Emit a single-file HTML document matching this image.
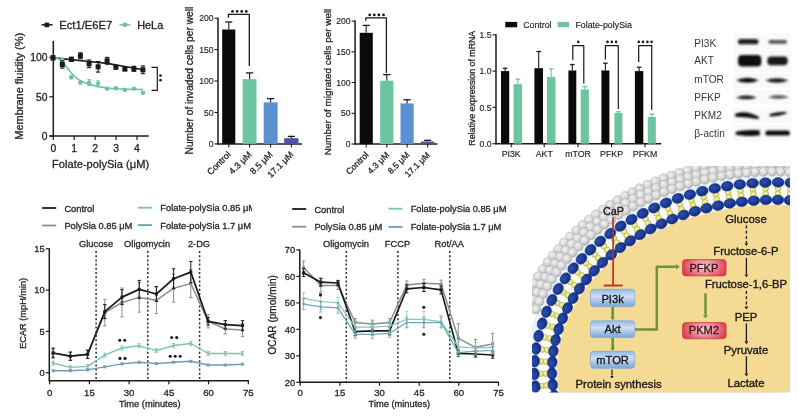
<!DOCTYPE html>
<html><head><meta charset="utf-8"><style>
html,body{margin:0;padding:0;background:#fff;}
svg{display:block;will-change:transform;-webkit-font-smoothing:antialiased;}
text{font-family:"Liberation Sans",sans-serif;stroke:#2a2a2a;stroke-width:0.3px;}
</style></head><body>
<svg width="798" height="417" viewBox="0 0 798 417">
<rect width="798" height="417" fill="#ffffff"/>
<line x1="53.3" y1="40.8" x2="53.3" y2="136.6" stroke="#1a1a1a" stroke-width="1.5" />
<line x1="49.5" y1="136.0" x2="148.8" y2="136.0" stroke="#1a1a1a" stroke-width="1.5" />
<line x1="49.3" y1="136.0" x2="53.3" y2="136.0" stroke="#1a1a1a" stroke-width="1.2" />
<text x="47.5" y="139.7" font-size="10.3" text-anchor="end" fill="#222" >0</text>
<line x1="49.3" y1="96.8" x2="53.3" y2="96.8" stroke="#1a1a1a" stroke-width="1.2" />
<text x="47.5" y="100.5" font-size="10.3" text-anchor="end" fill="#222" >50</text>
<line x1="49.3" y1="57.5" x2="53.3" y2="57.5" stroke="#1a1a1a" stroke-width="1.2" />
<text x="47.5" y="61.2" font-size="10.3" text-anchor="end" fill="#222" >100</text>
<line x1="53.3" y1="136.0" x2="53.3" y2="140.0" stroke="#1a1a1a" stroke-width="1.2" />
<text x="53.3" y="151.9" font-size="10.4" text-anchor="middle" fill="#222" >0</text>
<line x1="74.2" y1="136.0" x2="74.2" y2="140.0" stroke="#1a1a1a" stroke-width="1.2" />
<text x="74.2" y="151.9" font-size="10.4" text-anchor="middle" fill="#222" >1</text>
<line x1="95.2" y1="136.0" x2="95.2" y2="140.0" stroke="#1a1a1a" stroke-width="1.2" />
<text x="95.2" y="151.9" font-size="10.4" text-anchor="middle" fill="#222" >2</text>
<line x1="116.1" y1="136.0" x2="116.1" y2="140.0" stroke="#1a1a1a" stroke-width="1.2" />
<text x="116.1" y="151.9" font-size="10.4" text-anchor="middle" fill="#222" >3</text>
<line x1="137.0" y1="136.0" x2="137.0" y2="140.0" stroke="#1a1a1a" stroke-width="1.2" />
<text x="137.0" y="151.9" font-size="10.4" text-anchor="middle" fill="#222" >4</text>
<text x="100.6" y="167.6" font-size="11.1" text-anchor="middle" fill="#222" >Folate-polySia (μM)</text>
<text transform="translate(23,86.3) rotate(-90)" font-size="11" text-anchor="middle" fill="#222">Membrane fluidity (%)</text>
<line x1="41.6" y1="24.8" x2="52.6" y2="24.8" stroke="#1a1a1a" stroke-width="1.5" />
<rect x="44.6" y="22.6" width="4.6" height="4.6" fill="#1a1a1a" />
<text x="59.3" y="28.6" font-size="11.2" text-anchor="start" fill="#222" >Ect1/E6E7</text>
<line x1="119.5" y1="24.8" x2="130.3" y2="24.8" stroke="#6cc4a0" stroke-width="1.5" />
<circle cx="125" cy="24.8" r="2.4" fill="#6cc4a0"/>
<text x="137.2" y="28.6" font-size="10.9" text-anchor="start" fill="#222" >HeLa</text>
<path d="M53,57.8 L71,59.6 L89,61.5 L107,63.4 L125,66.5 L143,69.8" fill="none" stroke="#1a1a1a" stroke-width="1.6"/>
<path d="M53,57.8 L58,58.6 L62.3,61.5 L67,67.5 L71.4,73.2 L76,77.8 L80.4,80.6 L85,82.8 L89.1,84.4 L98,86.5 L107,88.1 L116,88.8 L125,89.2 L134,89.4 L143,89.5" fill="none" stroke="#6cc4a0" stroke-width="1.6" stroke-linejoin="round"/>
<line x1="53.0" y1="55.3" x2="53.0" y2="60.3" stroke="#6cc4a0" stroke-width="1.0" />
<line x1="51.2" y1="55.3" x2="54.8" y2="55.3" stroke="#6cc4a0" stroke-width="1.0" />
<line x1="51.2" y1="60.3" x2="54.8" y2="60.3" stroke="#6cc4a0" stroke-width="1.0" />
<circle cx="53.0" cy="57.8" r="2.2" fill="#6cc4a0"/>
<line x1="62.3" y1="58.0" x2="62.3" y2="62.0" stroke="#6cc4a0" stroke-width="1.0" />
<line x1="60.5" y1="58.0" x2="64.1" y2="58.0" stroke="#6cc4a0" stroke-width="1.0" />
<line x1="60.5" y1="62.0" x2="64.1" y2="62.0" stroke="#6cc4a0" stroke-width="1.0" />
<circle cx="62.3" cy="60.0" r="2.2" fill="#6cc4a0"/>
<line x1="71.4" y1="75.8" x2="71.4" y2="78.8" stroke="#6cc4a0" stroke-width="1.0" />
<line x1="69.6" y1="75.8" x2="73.2" y2="75.8" stroke="#6cc4a0" stroke-width="1.0" />
<line x1="69.6" y1="78.8" x2="73.2" y2="78.8" stroke="#6cc4a0" stroke-width="1.0" />
<circle cx="71.4" cy="77.3" r="2.2" fill="#6cc4a0"/>
<line x1="80.4" y1="81.1" x2="80.4" y2="84.1" stroke="#6cc4a0" stroke-width="1.0" />
<line x1="78.6" y1="81.1" x2="82.2" y2="81.1" stroke="#6cc4a0" stroke-width="1.0" />
<line x1="78.6" y1="84.1" x2="82.2" y2="84.1" stroke="#6cc4a0" stroke-width="1.0" />
<circle cx="80.4" cy="82.6" r="2.2" fill="#6cc4a0"/>
<line x1="89.1" y1="79.6" x2="89.1" y2="85.6" stroke="#6cc4a0" stroke-width="1.0" />
<line x1="87.3" y1="79.6" x2="90.9" y2="79.6" stroke="#6cc4a0" stroke-width="1.0" />
<line x1="87.3" y1="85.6" x2="90.9" y2="85.6" stroke="#6cc4a0" stroke-width="1.0" />
<circle cx="89.1" cy="82.6" r="2.2" fill="#6cc4a0"/>
<line x1="98.1" y1="80.8" x2="98.1" y2="86.8" stroke="#6cc4a0" stroke-width="1.0" />
<line x1="96.3" y1="80.8" x2="99.9" y2="80.8" stroke="#6cc4a0" stroke-width="1.0" />
<line x1="96.3" y1="86.8" x2="99.9" y2="86.8" stroke="#6cc4a0" stroke-width="1.0" />
<circle cx="98.1" cy="83.8" r="2.2" fill="#6cc4a0"/>
<line x1="107.1" y1="87.4" x2="107.1" y2="89.8" stroke="#6cc4a0" stroke-width="1.0" />
<line x1="105.3" y1="87.4" x2="108.9" y2="87.4" stroke="#6cc4a0" stroke-width="1.0" />
<line x1="105.3" y1="89.8" x2="108.9" y2="89.8" stroke="#6cc4a0" stroke-width="1.0" />
<circle cx="107.1" cy="88.6" r="2.2" fill="#6cc4a0"/>
<line x1="115.9" y1="87.1" x2="115.9" y2="89.5" stroke="#6cc4a0" stroke-width="1.0" />
<line x1="114.1" y1="87.1" x2="117.7" y2="87.1" stroke="#6cc4a0" stroke-width="1.0" />
<line x1="114.1" y1="89.5" x2="117.7" y2="89.5" stroke="#6cc4a0" stroke-width="1.0" />
<circle cx="115.9" cy="88.3" r="2.2" fill="#6cc4a0"/>
<line x1="124.9" y1="88.6" x2="124.9" y2="91.0" stroke="#6cc4a0" stroke-width="1.0" />
<line x1="123.1" y1="88.6" x2="126.7" y2="88.6" stroke="#6cc4a0" stroke-width="1.0" />
<line x1="123.1" y1="91.0" x2="126.7" y2="91.0" stroke="#6cc4a0" stroke-width="1.0" />
<circle cx="124.9" cy="89.8" r="2.2" fill="#6cc4a0"/>
<line x1="133.9" y1="87.6" x2="133.9" y2="89.6" stroke="#6cc4a0" stroke-width="1.0" />
<line x1="132.1" y1="87.6" x2="135.7" y2="87.6" stroke="#6cc4a0" stroke-width="1.0" />
<line x1="132.1" y1="89.6" x2="135.7" y2="89.6" stroke="#6cc4a0" stroke-width="1.0" />
<circle cx="133.9" cy="88.6" r="2.2" fill="#6cc4a0"/>
<line x1="142.9" y1="91.8" x2="142.9" y2="93.8" stroke="#6cc4a0" stroke-width="1.0" />
<line x1="141.1" y1="91.8" x2="144.7" y2="91.8" stroke="#6cc4a0" stroke-width="1.0" />
<line x1="141.1" y1="93.8" x2="144.7" y2="93.8" stroke="#6cc4a0" stroke-width="1.0" />
<circle cx="142.9" cy="92.8" r="2.2" fill="#6cc4a0"/>
<line x1="53.0" y1="55.8" x2="53.0" y2="59.8" stroke="#1a1a1a" stroke-width="1.1" />
<line x1="50.8" y1="55.8" x2="55.2" y2="55.8" stroke="#1a1a1a" stroke-width="1.1" />
<line x1="50.8" y1="59.8" x2="55.2" y2="59.8" stroke="#1a1a1a" stroke-width="1.1" />
<rect x="50.5" y="55.3" width="5.0" height="5.0" fill="#1a1a1a" />
<line x1="62.3" y1="60.9" x2="62.3" y2="68.1" stroke="#1a1a1a" stroke-width="1.1" />
<line x1="60.1" y1="60.9" x2="64.5" y2="60.9" stroke="#1a1a1a" stroke-width="1.1" />
<line x1="60.1" y1="68.1" x2="64.5" y2="68.1" stroke="#1a1a1a" stroke-width="1.1" />
<rect x="59.8" y="62.0" width="5.0" height="5.0" fill="#1a1a1a" />
<line x1="71.4" y1="57.3" x2="71.4" y2="61.3" stroke="#1a1a1a" stroke-width="1.1" />
<line x1="69.2" y1="57.3" x2="73.6" y2="57.3" stroke="#1a1a1a" stroke-width="1.1" />
<line x1="69.2" y1="61.3" x2="73.6" y2="61.3" stroke="#1a1a1a" stroke-width="1.1" />
<rect x="68.9" y="56.8" width="5.0" height="5.0" fill="#1a1a1a" />
<line x1="80.4" y1="52.8" x2="80.4" y2="58.8" stroke="#1a1a1a" stroke-width="1.1" />
<line x1="78.2" y1="52.8" x2="82.6" y2="52.8" stroke="#1a1a1a" stroke-width="1.1" />
<line x1="78.2" y1="58.8" x2="82.6" y2="58.8" stroke="#1a1a1a" stroke-width="1.1" />
<rect x="77.9" y="53.3" width="5.0" height="5.0" fill="#1a1a1a" />
<line x1="89.1" y1="60.0" x2="89.1" y2="67.6" stroke="#1a1a1a" stroke-width="1.1" />
<line x1="86.9" y1="60.0" x2="91.3" y2="60.0" stroke="#1a1a1a" stroke-width="1.1" />
<line x1="86.9" y1="67.6" x2="91.3" y2="67.6" stroke="#1a1a1a" stroke-width="1.1" />
<rect x="86.6" y="61.3" width="5.0" height="5.0" fill="#1a1a1a" />
<line x1="98.1" y1="61.5" x2="98.1" y2="72.1" stroke="#1a1a1a" stroke-width="1.1" />
<line x1="95.9" y1="61.5" x2="100.3" y2="61.5" stroke="#1a1a1a" stroke-width="1.1" />
<line x1="95.9" y1="72.1" x2="100.3" y2="72.1" stroke="#1a1a1a" stroke-width="1.1" />
<rect x="95.6" y="64.3" width="5.0" height="5.0" fill="#1a1a1a" />
<line x1="107.1" y1="57.4" x2="107.1" y2="64.2" stroke="#1a1a1a" stroke-width="1.1" />
<line x1="104.9" y1="57.4" x2="109.3" y2="57.4" stroke="#1a1a1a" stroke-width="1.1" />
<line x1="104.9" y1="64.2" x2="109.3" y2="64.2" stroke="#1a1a1a" stroke-width="1.1" />
<rect x="104.6" y="58.3" width="5.0" height="5.0" fill="#1a1a1a" />
<line x1="115.9" y1="65.8" x2="115.9" y2="68.8" stroke="#1a1a1a" stroke-width="1.1" />
<line x1="113.7" y1="65.8" x2="118.1" y2="65.8" stroke="#1a1a1a" stroke-width="1.1" />
<line x1="113.7" y1="68.8" x2="118.1" y2="68.8" stroke="#1a1a1a" stroke-width="1.1" />
<rect x="113.4" y="64.8" width="5.0" height="5.0" fill="#1a1a1a" />
<line x1="124.9" y1="67.6" x2="124.9" y2="70.6" stroke="#1a1a1a" stroke-width="1.1" />
<line x1="122.7" y1="67.6" x2="127.1" y2="67.6" stroke="#1a1a1a" stroke-width="1.1" />
<line x1="122.7" y1="70.6" x2="127.1" y2="70.6" stroke="#1a1a1a" stroke-width="1.1" />
<rect x="122.4" y="66.6" width="5.0" height="5.0" fill="#1a1a1a" />
<line x1="133.9" y1="66.3" x2="133.9" y2="71.3" stroke="#1a1a1a" stroke-width="1.1" />
<line x1="131.7" y1="66.3" x2="136.1" y2="66.3" stroke="#1a1a1a" stroke-width="1.1" />
<line x1="131.7" y1="71.3" x2="136.1" y2="71.3" stroke="#1a1a1a" stroke-width="1.1" />
<rect x="131.4" y="66.3" width="5.0" height="5.0" fill="#1a1a1a" />
<line x1="142.9" y1="65.9" x2="142.9" y2="73.7" stroke="#1a1a1a" stroke-width="1.1" />
<line x1="140.7" y1="65.9" x2="145.1" y2="65.9" stroke="#1a1a1a" stroke-width="1.1" />
<line x1="140.7" y1="73.7" x2="145.1" y2="73.7" stroke="#1a1a1a" stroke-width="1.1" />
<rect x="140.4" y="67.3" width="5.0" height="5.0" fill="#1a1a1a" />
<polyline points="151.5,67.3 157.3,67.3 157.3,90.4 151.5,90.4" fill="none" stroke="#1a1a1a" stroke-width="1.2" stroke-linejoin="round" />
<circle cx="160.5" cy="75.6" r="1.35" fill="#222"/><circle cx="160.5" cy="80.2" r="1.35" fill="#222"/>
<line x1="218.0" y1="17.7" x2="218.0" y2="144.5" stroke="#1a1a1a" stroke-width="1.5" />
<line x1="217.4" y1="143.9" x2="302.0" y2="143.9" stroke="#1a1a1a" stroke-width="1.5" />
<line x1="214.5" y1="143.9" x2="218.0" y2="143.9" stroke="#1a1a1a" stroke-width="1.1" />
<text x="213.5" y="147.0" font-size="8.6" text-anchor="end" fill="#222" style="stroke-width:0.15px">0</text>
<line x1="214.5" y1="112.5" x2="218.0" y2="112.5" stroke="#1a1a1a" stroke-width="1.1" />
<text x="213.5" y="115.6" font-size="8.6" text-anchor="end" fill="#222" style="stroke-width:0.15px">50</text>
<line x1="214.5" y1="81.0" x2="218.0" y2="81.0" stroke="#1a1a1a" stroke-width="1.1" />
<text x="213.5" y="84.1" font-size="8.6" text-anchor="end" fill="#222" style="stroke-width:0.15px">100</text>
<line x1="214.5" y1="49.6" x2="218.0" y2="49.6" stroke="#1a1a1a" stroke-width="1.1" />
<text x="213.5" y="52.7" font-size="8.6" text-anchor="end" fill="#222" style="stroke-width:0.15px">150</text>
<line x1="214.5" y1="18.2" x2="218.0" y2="18.2" stroke="#1a1a1a" stroke-width="1.1" />
<text x="213.5" y="21.3" font-size="8.6" text-anchor="end" fill="#222" style="stroke-width:0.15px">200</text>
<rect x="222.2" y="29.5" width="13.1" height="114.4" fill="#0a0a0a" />
<line x1="228.8" y1="29.5" x2="228.8" y2="22.0" stroke="#1a1a1a" stroke-width="1.1" />
<line x1="225.2" y1="22.0" x2="232.3" y2="22.0" stroke="#1a1a1a" stroke-width="1.3" />
<line x1="228.8" y1="143.9" x2="228.8" y2="147.4" stroke="#1a1a1a" stroke-width="1.1" />
<text transform="translate(231.3,155.1) rotate(-45)" font-size="9" text-anchor="end" fill="#222">Control</text>
<rect x="242.6" y="79.2" width="13.9" height="64.7" fill="#6cc4a0" />
<line x1="249.6" y1="79.2" x2="249.6" y2="72.9" stroke="#1a1a1a" stroke-width="1.1" />
<line x1="246.0" y1="72.9" x2="253.2" y2="72.9" stroke="#1a1a1a" stroke-width="1.3" />
<line x1="249.6" y1="143.9" x2="249.6" y2="147.4" stroke="#1a1a1a" stroke-width="1.1" />
<text transform="translate(252.2,155.1) rotate(-45)" font-size="9" text-anchor="end" fill="#222">4.3 μM</text>
<rect x="263.7" y="102.4" width="13.9" height="41.5" fill="#5b90d2" />
<line x1="270.6" y1="102.4" x2="270.6" y2="98.6" stroke="#1a1a1a" stroke-width="1.1" />
<line x1="267.0" y1="98.6" x2="274.2" y2="98.6" stroke="#1a1a1a" stroke-width="1.3" />
<line x1="270.6" y1="143.9" x2="270.6" y2="147.4" stroke="#1a1a1a" stroke-width="1.1" />
<text transform="translate(273.2,155.1) rotate(-45)" font-size="9" text-anchor="end" fill="#222">8.5 μM</text>
<rect x="284.2" y="138.2" width="14.3" height="5.7" fill="#4b52a3" />
<line x1="291.4" y1="138.2" x2="291.4" y2="136.4" stroke="#1a1a1a" stroke-width="1.1" />
<line x1="287.8" y1="136.4" x2="295.0" y2="136.4" stroke="#1a1a1a" stroke-width="1.3" />
<line x1="291.4" y1="143.9" x2="291.4" y2="147.4" stroke="#1a1a1a" stroke-width="1.1" />
<text transform="translate(294.0,155.1) rotate(-45)" font-size="9" text-anchor="end" fill="#222">17.1 μM</text>
<text transform="translate(192.7,80.6) rotate(-90)" font-size="10.23" text-anchor="middle" fill="#222">Number of invaded cells per well</text>
<polyline points="228.4,17.7 228.4,14.4 249.3,14.4 249.3,66.0" fill="none" stroke="#1a1a1a" stroke-width="1.3" stroke-linejoin="round" />
<circle cx="232.5" cy="11.4" r="1.4" fill="#1a1a1a"/>
<circle cx="237.1" cy="11.4" r="1.4" fill="#1a1a1a"/>
<circle cx="241.7" cy="11.4" r="1.4" fill="#1a1a1a"/>
<circle cx="246.3" cy="11.4" r="1.4" fill="#1a1a1a"/>
<line x1="355.1" y1="20.6" x2="355.1" y2="144.6" stroke="#1a1a1a" stroke-width="1.5" />
<line x1="354.5" y1="144.0" x2="437.4" y2="144.0" stroke="#1a1a1a" stroke-width="1.5" />
<line x1="351.6" y1="144.0" x2="355.1" y2="144.0" stroke="#1a1a1a" stroke-width="1.1" />
<text x="350.6" y="147.1" font-size="8.6" text-anchor="end" fill="#222" style="stroke-width:0.15px">0</text>
<line x1="351.6" y1="113.3" x2="355.1" y2="113.3" stroke="#1a1a1a" stroke-width="1.1" />
<text x="350.6" y="116.4" font-size="8.6" text-anchor="end" fill="#222" style="stroke-width:0.15px">50</text>
<line x1="351.6" y1="82.5" x2="355.1" y2="82.5" stroke="#1a1a1a" stroke-width="1.1" />
<text x="350.6" y="85.6" font-size="8.6" text-anchor="end" fill="#222" style="stroke-width:0.15px">100</text>
<line x1="351.6" y1="51.8" x2="355.1" y2="51.8" stroke="#1a1a1a" stroke-width="1.1" />
<text x="350.6" y="54.9" font-size="8.6" text-anchor="end" fill="#222" style="stroke-width:0.15px">150</text>
<line x1="351.6" y1="21.1" x2="355.1" y2="21.1" stroke="#1a1a1a" stroke-width="1.1" />
<text x="350.6" y="24.2" font-size="8.6" text-anchor="end" fill="#222" style="stroke-width:0.15px">200</text>
<rect x="359.7" y="32.8" width="13.1" height="111.2" fill="#0a0a0a" />
<line x1="366.2" y1="32.8" x2="366.2" y2="25.4" stroke="#1a1a1a" stroke-width="1.1" />
<line x1="362.6" y1="25.4" x2="369.9" y2="25.4" stroke="#1a1a1a" stroke-width="1.3" />
<line x1="366.2" y1="144.0" x2="366.2" y2="147.5" stroke="#1a1a1a" stroke-width="1.1" />
<text transform="translate(369.2,155.5) rotate(-45)" font-size="8.7" text-anchor="end" fill="#222">Control</text>
<rect x="380.2" y="80.7" width="13.2" height="63.3" fill="#6cc4a0" />
<line x1="386.8" y1="80.7" x2="386.8" y2="74.6" stroke="#1a1a1a" stroke-width="1.1" />
<line x1="383.2" y1="74.6" x2="390.4" y2="74.6" stroke="#1a1a1a" stroke-width="1.3" />
<line x1="386.8" y1="144.0" x2="386.8" y2="147.5" stroke="#1a1a1a" stroke-width="1.1" />
<text transform="translate(389.8,155.5) rotate(-45)" font-size="8.7" text-anchor="end" fill="#222">4.3 μM</text>
<rect x="400.5" y="103.4" width="13.2" height="40.6" fill="#5b90d2" />
<line x1="407.1" y1="103.4" x2="407.1" y2="99.8" stroke="#1a1a1a" stroke-width="1.1" />
<line x1="403.5" y1="99.8" x2="410.7" y2="99.8" stroke="#1a1a1a" stroke-width="1.3" />
<line x1="407.1" y1="144.0" x2="407.1" y2="147.5" stroke="#1a1a1a" stroke-width="1.1" />
<text transform="translate(410.1,155.5) rotate(-45)" font-size="8.7" text-anchor="end" fill="#222">8.5 μM</text>
<rect x="421.0" y="141.5" width="13.2" height="2.5" fill="#4b52a3" />
<line x1="427.6" y1="141.5" x2="427.6" y2="140.3" stroke="#1a1a1a" stroke-width="1.1" />
<line x1="424.0" y1="140.3" x2="431.2" y2="140.3" stroke="#1a1a1a" stroke-width="1.3" />
<line x1="427.6" y1="144.0" x2="427.6" y2="147.5" stroke="#1a1a1a" stroke-width="1.1" />
<text transform="translate(430.6,155.5) rotate(-45)" font-size="8.7" text-anchor="end" fill="#222">17.1 μM</text>
<text transform="translate(330.5,82.0) rotate(-90)" font-size="9.88" text-anchor="middle" fill="#222">Number of migrated cells per well</text>
<polyline points="365.8,20.8 365.8,17.9 386.4,17.9 386.4,73.0" fill="none" stroke="#1a1a1a" stroke-width="1.3" stroke-linejoin="round" />
<circle cx="369.7" cy="14.9" r="1.4" fill="#1a1a1a"/>
<circle cx="374.3" cy="14.9" r="1.4" fill="#1a1a1a"/>
<circle cx="378.9" cy="14.9" r="1.4" fill="#1a1a1a"/>
<circle cx="383.5" cy="14.9" r="1.4" fill="#1a1a1a"/>
<line x1="496.0" y1="34.3" x2="496.0" y2="144.3" stroke="#1a1a1a" stroke-width="1.5" />
<line x1="495.4" y1="143.7" x2="661.2" y2="143.7" stroke="#1a1a1a" stroke-width="1.5" />
<line x1="492.5" y1="143.7" x2="496.0" y2="143.7" stroke="#1a1a1a" stroke-width="1.1" />
<text x="491.5" y="146.8" font-size="8.6" text-anchor="end" fill="#222" style="stroke-width:0.15px">0.0</text>
<line x1="492.5" y1="107.4" x2="496.0" y2="107.4" stroke="#1a1a1a" stroke-width="1.1" />
<text x="491.5" y="110.5" font-size="8.6" text-anchor="end" fill="#222" style="stroke-width:0.15px">0.5</text>
<line x1="492.5" y1="71.1" x2="496.0" y2="71.1" stroke="#1a1a1a" stroke-width="1.1" />
<text x="491.5" y="74.2" font-size="8.6" text-anchor="end" fill="#222" style="stroke-width:0.15px">1.0</text>
<line x1="492.5" y1="34.8" x2="496.0" y2="34.8" stroke="#1a1a1a" stroke-width="1.1" />
<text x="491.5" y="37.9" font-size="8.6" text-anchor="end" fill="#222" style="stroke-width:0.15px">1.5</text>
<text transform="translate(475.1,88.2) rotate(-90)" font-size="8.8" text-anchor="middle" fill="#222">Relative expression of mRNA</text>
<rect x="505.3" y="21.9" width="11.9" height="5.4" fill="#0a0a0a" />
<text x="523.2" y="28.0" font-size="8.8" text-anchor="start" fill="#222" style="stroke-width:0.15px">Control</text>
<rect x="557.6" y="21.9" width="11.4" height="5.4" fill="#6cc4a0" />
<text x="575.4" y="28.0" font-size="8.85" text-anchor="start" fill="#222" style="stroke-width:0.15px">Folate-polySia</text>
<rect x="501.0" y="71.1" width="8.2" height="72.6" fill="#0a0a0a" />
<line x1="505.1" y1="71.1" x2="505.1" y2="68.2" stroke="#1a1a1a" stroke-width="1.1" />
<line x1="502.8" y1="68.2" x2="507.4" y2="68.2" stroke="#1a1a1a" stroke-width="1.3" />
<rect x="513.5" y="84.2" width="8.6" height="59.5" fill="#6cc4a0" />
<line x1="517.8" y1="84.2" x2="517.8" y2="79.1" stroke="#6cc4a0" stroke-width="1.1" />
<line x1="515.5" y1="79.1" x2="520.1" y2="79.1" stroke="#6cc4a0" stroke-width="1.3" />
<line x1="511.2" y1="143.7" x2="511.2" y2="147.2" stroke="#1a1a1a" stroke-width="1.1" />
<text x="511.2" y="156.7" font-size="8.8" text-anchor="middle" fill="#222" style="stroke-width:0.15px">PI3K</text>
<rect x="534.4" y="68.2" width="8.6" height="75.5" fill="#0a0a0a" />
<line x1="538.7" y1="68.2" x2="538.7" y2="51.5" stroke="#1a1a1a" stroke-width="1.1" />
<line x1="536.4" y1="51.5" x2="541.0" y2="51.5" stroke="#1a1a1a" stroke-width="1.3" />
<rect x="547.0" y="76.9" width="8.5" height="66.8" fill="#6cc4a0" />
<line x1="551.2" y1="76.9" x2="551.2" y2="68.9" stroke="#6cc4a0" stroke-width="1.1" />
<line x1="549.0" y1="68.9" x2="553.5" y2="68.9" stroke="#6cc4a0" stroke-width="1.3" />
<line x1="544.2" y1="143.7" x2="544.2" y2="147.2" stroke="#1a1a1a" stroke-width="1.1" />
<text x="544.2" y="156.7" font-size="8.8" text-anchor="middle" fill="#222" style="stroke-width:0.15px">AKT</text>
<rect x="568.4" y="70.5" width="7.9" height="73.2" fill="#0a0a0a" />
<line x1="572.3" y1="70.5" x2="572.3" y2="64.5" stroke="#1a1a1a" stroke-width="1.1" />
<line x1="570.0" y1="64.5" x2="574.6" y2="64.5" stroke="#1a1a1a" stroke-width="1.3" />
<rect x="580.7" y="89.5" width="8.2" height="54.2" fill="#6cc4a0" />
<line x1="584.8" y1="89.5" x2="584.8" y2="86.7" stroke="#6cc4a0" stroke-width="1.1" />
<line x1="582.5" y1="86.7" x2="587.1" y2="86.7" stroke="#6cc4a0" stroke-width="1.3" />
<line x1="578.0" y1="143.7" x2="578.0" y2="147.2" stroke="#1a1a1a" stroke-width="1.1" />
<text x="578.0" y="156.7" font-size="8.8" text-anchor="middle" fill="#222" style="stroke-width:0.15px">mTOR</text>
<rect x="601.4" y="70.5" width="8.0" height="73.2" fill="#0a0a0a" />
<line x1="605.4" y1="70.5" x2="605.4" y2="63.2" stroke="#1a1a1a" stroke-width="1.1" />
<line x1="603.1" y1="63.2" x2="607.7" y2="63.2" stroke="#1a1a1a" stroke-width="1.3" />
<rect x="614.4" y="113.0" width="8.0" height="30.7" fill="#6cc4a0" />
<line x1="618.4" y1="113.0" x2="618.4" y2="111.8" stroke="#6cc4a0" stroke-width="1.1" />
<line x1="616.1" y1="111.8" x2="620.7" y2="111.8" stroke="#6cc4a0" stroke-width="1.3" />
<line x1="611.6" y1="143.7" x2="611.6" y2="147.2" stroke="#1a1a1a" stroke-width="1.1" />
<text x="611.6" y="156.7" font-size="8.8" text-anchor="middle" fill="#222" style="stroke-width:0.15px">PFKP</text>
<rect x="634.9" y="71.1" width="8.4" height="72.6" fill="#0a0a0a" />
<line x1="639.1" y1="71.1" x2="639.1" y2="67.2" stroke="#1a1a1a" stroke-width="1.1" />
<line x1="636.8" y1="67.2" x2="641.4" y2="67.2" stroke="#1a1a1a" stroke-width="1.3" />
<rect x="647.8" y="117.0" width="8.0" height="26.7" fill="#6cc4a0" />
<line x1="651.8" y1="117.0" x2="651.8" y2="114.0" stroke="#6cc4a0" stroke-width="1.1" />
<line x1="649.5" y1="114.0" x2="654.1" y2="114.0" stroke="#6cc4a0" stroke-width="1.3" />
<line x1="645.0" y1="143.7" x2="645.0" y2="147.2" stroke="#1a1a1a" stroke-width="1.1" />
<text x="645.0" y="156.7" font-size="8.8" text-anchor="middle" fill="#222" style="stroke-width:0.15px">PFKM</text>
<polyline points="572.8,60.0 572.8,45.7 583.8,45.7 583.8,83.4" fill="none" stroke="#1a1a1a" stroke-width="1.2" stroke-linejoin="round" />
<circle cx="578.3" cy="41.9" r="1.3" fill="#1a1a1a"/>
<polyline points="605.4,59.4 605.4,45.7 618.3,45.7 618.3,109.0" fill="none" stroke="#1a1a1a" stroke-width="1.2" stroke-linejoin="round" />
<circle cx="607.5" cy="41.9" r="1.3" fill="#1a1a1a"/>
<circle cx="611.8" cy="41.9" r="1.3" fill="#1a1a1a"/>
<circle cx="616.1" cy="41.9" r="1.3" fill="#1a1a1a"/>
<polyline points="638.7,62.0 638.7,45.7 651.7,45.7 651.7,110.0" fill="none" stroke="#1a1a1a" stroke-width="1.2" stroke-linejoin="round" />
<circle cx="638.8" cy="41.9" r="1.3" fill="#1a1a1a"/>
<circle cx="643.0" cy="41.9" r="1.3" fill="#1a1a1a"/>
<circle cx="647.4" cy="41.9" r="1.3" fill="#1a1a1a"/>
<circle cx="651.6" cy="41.9" r="1.3" fill="#1a1a1a"/>
<text x="694.3" y="46.6" font-size="10.1" text-anchor="start" fill="#383838" style="stroke-width:0px">PI3K</text>
<text x="694.3" y="64.3" font-size="10.1" text-anchor="start" fill="#383838" style="stroke-width:0px">AKT</text>
<text x="694.3" y="82.8" font-size="10.1" text-anchor="start" fill="#383838" style="stroke-width:0px">mTOR</text>
<text x="694.3" y="100.7" font-size="10.1" text-anchor="start" fill="#383838" style="stroke-width:0px">PFKP</text>
<text x="694.3" y="119.2" font-size="10.1" text-anchor="start" fill="#383838" style="stroke-width:0px">PKM2</text>
<text x="694.3" y="136.6" font-size="10.1" text-anchor="start" fill="#383838" style="stroke-width:0px">β-actin</text>
<defs><filter id="bl" x="-20%" y="-80%" width="140%" height="260%"><feGaussianBlur stdDeviation="0.8"/></filter></defs>
<rect x="733.0" y="33.0" width="58.0" height="16.0" fill="#f9f9f9" />
<rect x="733.0" y="50.0" width="58.0" height="22.0" fill="#f9f9f9" />
<rect x="733.0" y="73.0" width="58.0" height="15.0" fill="#f9f9f9" />
<rect x="733.0" y="90.0" width="58.0" height="14.0" fill="#f9f9f9" />
<rect x="733.0" y="108.0" width="58.0" height="15.0" fill="#f9f9f9" />
<rect x="733.0" y="125.0" width="58.0" height="16.0" fill="#f9f9f9" />
<rect x="738.0" y="39.1" width="20.5" height="5.2" rx="2.6" fill="#111" fill-opacity="0.92" filter="url(#bl)" transform="rotate(0 748.2 41.7)"/>
<rect x="768.5" y="39.9" width="18.5" height="3.8" rx="1.9" fill="#111" fill-opacity="0.72" filter="url(#bl)" transform="rotate(0 777.7 41.8)"/>
<rect x="738.1" y="55.0" width="23.2" height="11.5" rx="4.0" fill="#111" fill-opacity="1.0" filter="url(#bl)" transform="rotate(0 749.7 60.8)"/>
<rect x="767.3" y="56.5" width="20.4" height="8.8" rx="4.0" fill="#111" fill-opacity="0.95" filter="url(#bl)" transform="rotate(0 777.5 60.9)"/>
<path d="M735.9,80.2 Q747.5,75.2 759.0,80.2 Q747.5,85.2 735.9,80.2 Z" fill="#111" fill-opacity="1.0" filter="url(#bl)"/>
<path d="M765.2,80.5 Q776.9,76.1 788.5,80.5 Q776.9,84.9 765.2,80.5 Z" fill="#111" fill-opacity="0.95" filter="url(#bl)"/>
<path d="M735.9,97.8 Q746.3,93.1 756.8,97.8 Q746.3,100.9 735.9,97.8 Z" fill="#111" fill-opacity="0.95" filter="url(#bl)"/>
<path d="M767.6,97.3 Q778.4,93.3 789.2,97.3 Q778.4,100.1 767.6,97.3 Z" fill="#111" fill-opacity="0.75" filter="url(#bl)"/>
<path d="M736,114.8 Q746,111 758,117.8 Q747,116 736,115.6 Z" fill="#111" stroke="#111" stroke-width="2.2" stroke-linejoin="round" filter="url(#bl)"/>
<path d="M770.5,114.8 Q778,112.2 785.6,113 Q778,115.4 770.5,115.6 Z" fill="#111" stroke="#111" stroke-width="1.8" stroke-linejoin="round" fill-opacity="0.9" filter="url(#bl)"/>
<path d="M736.5,132.6 Q745,130 759,131 L759,134.8 Q748,136 736.5,134 Z" fill="#111" stroke="#111" stroke-width="1.6" stroke-linejoin="round" filter="url(#bl)"/>
<rect x="765.4" y="130.4" width="24.5" height="5.2" rx="2.6" fill="#111" fill-opacity="1.0" filter="url(#bl)" transform="rotate(0 777.6 133.0)"/>
<defs><clipPath id="legclip"><rect x="0" y="190" width="252" height="50"/><rect x="270" y="190" width="250" height="50"/></clipPath></defs>
<line x1="49.3" y1="248.3" x2="49.3" y2="381.3" stroke="#1a1a1a" stroke-width="1.5" />
<line x1="48.7" y1="380.7" x2="248.9" y2="380.7" stroke="#1a1a1a" stroke-width="1.5" />
<line x1="45.8" y1="372.7" x2="49.3" y2="372.7" stroke="#1a1a1a" stroke-width="1.2" />
<text x="44.7" y="376.0" font-size="9.3" text-anchor="end" fill="#222" >0</text>
<line x1="45.8" y1="331.4" x2="49.3" y2="331.4" stroke="#1a1a1a" stroke-width="1.2" />
<text x="44.7" y="334.7" font-size="9.3" text-anchor="end" fill="#222" >5</text>
<line x1="45.8" y1="290.1" x2="49.3" y2="290.1" stroke="#1a1a1a" stroke-width="1.2" />
<text x="44.7" y="293.4" font-size="9.3" text-anchor="end" fill="#222" >10</text>
<line x1="45.8" y1="248.8" x2="49.3" y2="248.8" stroke="#1a1a1a" stroke-width="1.2" />
<text x="44.7" y="252.1" font-size="9.3" text-anchor="end" fill="#222" >15</text>
<line x1="49.7" y1="380.7" x2="49.7" y2="384.2" stroke="#1a1a1a" stroke-width="1.2" />
<text x="49.7" y="395.5" font-size="9.6" text-anchor="middle" fill="#222" >0</text>
<line x1="89.4" y1="380.7" x2="89.4" y2="384.2" stroke="#1a1a1a" stroke-width="1.2" />
<text x="89.4" y="395.5" font-size="9.6" text-anchor="middle" fill="#222" >15</text>
<line x1="129.1" y1="380.7" x2="129.1" y2="384.2" stroke="#1a1a1a" stroke-width="1.2" />
<text x="129.1" y="395.5" font-size="9.6" text-anchor="middle" fill="#222" >30</text>
<line x1="168.9" y1="380.7" x2="168.9" y2="384.2" stroke="#1a1a1a" stroke-width="1.2" />
<text x="168.9" y="395.5" font-size="9.6" text-anchor="middle" fill="#222" >45</text>
<line x1="208.6" y1="380.7" x2="208.6" y2="384.2" stroke="#1a1a1a" stroke-width="1.2" />
<text x="208.6" y="395.5" font-size="9.6" text-anchor="middle" fill="#222" >60</text>
<line x1="248.3" y1="380.7" x2="248.3" y2="384.2" stroke="#1a1a1a" stroke-width="1.2" />
<text x="248.3" y="395.5" font-size="9.6" text-anchor="middle" fill="#222" >75</text>
<text x="149.8" y="407.3" font-size="9.3" text-anchor="middle" fill="#222" >Time (minutes)</text>
<text transform="translate(25.6,313.3) rotate(-90)" font-size="9.2" text-anchor="middle" fill="#222">ECAR (mpH/min)</text>
<line x1="96.1" y1="251" x2="96.1" y2="380.7" stroke="#2a2a2a" stroke-width="1.5" stroke-dasharray="2.0,2.2"/>
<text x="96.1" y="247.3" font-size="9.3" text-anchor="middle" fill="#222" >Glucose</text>
<line x1="147.8" y1="251" x2="147.8" y2="380.7" stroke="#2a2a2a" stroke-width="1.5" stroke-dasharray="2.0,2.2"/>
<text x="147.1" y="247.3" font-size="9.3" text-anchor="middle" fill="#222" >Oligomycin</text>
<line x1="199.6" y1="251" x2="199.6" y2="380.7" stroke="#2a2a2a" stroke-width="1.5" stroke-dasharray="2.0,2.2"/>
<text x="199.0" y="247.3" font-size="9.3" text-anchor="middle" fill="#222" >2-DG</text>
<line x1="42.2" y1="208.0" x2="56.2" y2="208.0" stroke="#1a1a1a" stroke-width="1.8" />
<g clip-path="url(#legclip)">
<text x="64.4" y="211.5" font-size="9.3" text-anchor="start" fill="#222" >Control</text>
</g>
<line x1="42.2" y1="225.5" x2="56.2" y2="225.5" stroke="#8e8e8e" stroke-width="1.8" />
<g clip-path="url(#legclip)">
<text x="64.4" y="229.0" font-size="9.3" text-anchor="start" fill="#222" >PolySia 0.85 μM</text>
</g>
<line x1="138.1" y1="207.7" x2="152.1" y2="207.7" stroke="#78c4ae" stroke-width="1.8" />
<g clip-path="url(#legclip)">
<text x="160.3" y="211.2" font-size="9.3" text-anchor="start" fill="#222" >Folate-polySia 0.85 μM</text>
</g>
<line x1="138.1" y1="225.1" x2="152.1" y2="225.1" stroke="#6a9db6" stroke-width="1.8" />
<g clip-path="url(#legclip)">
<text x="160.3" y="228.6" font-size="9.3" text-anchor="start" fill="#222" >Folate-polySia 1.7 μM</text>
</g>
<line x1="53.1" y1="348.8" x2="53.1" y2="357.1" stroke="#8e8e8e" stroke-width="1.0" />
<line x1="51.4" y1="348.8" x2="54.8" y2="348.8" stroke="#8e8e8e" stroke-width="1.0" />
<line x1="51.4" y1="357.1" x2="54.8" y2="357.1" stroke="#8e8e8e" stroke-width="1.0" />
<line x1="70.4" y1="352.1" x2="70.4" y2="360.3" stroke="#8e8e8e" stroke-width="1.0" />
<line x1="68.7" y1="352.1" x2="72.1" y2="352.1" stroke="#8e8e8e" stroke-width="1.0" />
<line x1="68.7" y1="360.3" x2="72.1" y2="360.3" stroke="#8e8e8e" stroke-width="1.0" />
<line x1="87.6" y1="350.2" x2="87.6" y2="358.4" stroke="#8e8e8e" stroke-width="1.0" />
<line x1="85.9" y1="350.2" x2="89.3" y2="350.2" stroke="#8e8e8e" stroke-width="1.0" />
<line x1="85.9" y1="358.4" x2="89.3" y2="358.4" stroke="#8e8e8e" stroke-width="1.0" />
<line x1="104.8" y1="299.5" x2="104.8" y2="325.9" stroke="#8e8e8e" stroke-width="1.0" />
<line x1="103.1" y1="299.5" x2="106.5" y2="299.5" stroke="#8e8e8e" stroke-width="1.0" />
<line x1="103.1" y1="325.9" x2="106.5" y2="325.9" stroke="#8e8e8e" stroke-width="1.0" />
<line x1="122.0" y1="288.0" x2="122.0" y2="316.9" stroke="#8e8e8e" stroke-width="1.0" />
<line x1="120.3" y1="288.0" x2="123.7" y2="288.0" stroke="#8e8e8e" stroke-width="1.0" />
<line x1="120.3" y1="316.9" x2="123.7" y2="316.9" stroke="#8e8e8e" stroke-width="1.0" />
<line x1="139.2" y1="282.5" x2="139.2" y2="312.2" stroke="#8e8e8e" stroke-width="1.0" />
<line x1="137.5" y1="282.5" x2="140.9" y2="282.5" stroke="#8e8e8e" stroke-width="1.0" />
<line x1="137.5" y1="312.2" x2="140.9" y2="312.2" stroke="#8e8e8e" stroke-width="1.0" />
<line x1="156.4" y1="287.0" x2="156.4" y2="313.5" stroke="#8e8e8e" stroke-width="1.0" />
<line x1="154.7" y1="287.0" x2="158.1" y2="287.0" stroke="#8e8e8e" stroke-width="1.0" />
<line x1="154.7" y1="313.5" x2="158.1" y2="313.5" stroke="#8e8e8e" stroke-width="1.0" />
<line x1="173.6" y1="274.2" x2="173.6" y2="302.2" stroke="#8e8e8e" stroke-width="1.0" />
<line x1="171.9" y1="274.2" x2="175.3" y2="274.2" stroke="#8e8e8e" stroke-width="1.0" />
<line x1="171.9" y1="302.2" x2="175.3" y2="302.2" stroke="#8e8e8e" stroke-width="1.0" />
<line x1="190.8" y1="269.5" x2="190.8" y2="297.6" stroke="#8e8e8e" stroke-width="1.0" />
<line x1="189.1" y1="269.5" x2="192.5" y2="269.5" stroke="#8e8e8e" stroke-width="1.0" />
<line x1="189.1" y1="297.6" x2="192.5" y2="297.6" stroke="#8e8e8e" stroke-width="1.0" />
<line x1="208.1" y1="314.7" x2="208.1" y2="327.9" stroke="#8e8e8e" stroke-width="1.0" />
<line x1="206.4" y1="314.7" x2="209.8" y2="314.7" stroke="#8e8e8e" stroke-width="1.0" />
<line x1="206.4" y1="327.9" x2="209.8" y2="327.9" stroke="#8e8e8e" stroke-width="1.0" />
<line x1="225.3" y1="324.0" x2="225.3" y2="334.0" stroke="#8e8e8e" stroke-width="1.0" />
<line x1="223.6" y1="324.0" x2="227.0" y2="324.0" stroke="#8e8e8e" stroke-width="1.0" />
<line x1="223.6" y1="334.0" x2="227.0" y2="334.0" stroke="#8e8e8e" stroke-width="1.0" />
<line x1="242.5" y1="323.4" x2="242.5" y2="336.6" stroke="#8e8e8e" stroke-width="1.0" />
<line x1="240.8" y1="323.4" x2="244.2" y2="323.4" stroke="#8e8e8e" stroke-width="1.0" />
<line x1="240.8" y1="336.6" x2="244.2" y2="336.6" stroke="#8e8e8e" stroke-width="1.0" />
<polyline points="53.1,353.0 70.4,356.2 87.6,354.3 104.8,312.7 122.0,302.5 139.2,297.4 156.4,300.3 173.6,288.2 190.8,283.6 208.1,321.3 225.3,329.0 242.5,330.0" fill="none" stroke="#8e8e8e" stroke-width="1.5" stroke-linejoin="round" />
<rect x="51.6" y="351.5" width="3.0" height="3.0" fill="#8e8e8e"/>
<rect x="68.9" y="354.7" width="3.0" height="3.0" fill="#8e8e8e"/>
<rect x="86.1" y="352.8" width="3.0" height="3.0" fill="#8e8e8e"/>
<rect x="103.3" y="311.2" width="3.0" height="3.0" fill="#8e8e8e"/>
<rect x="120.5" y="301.0" width="3.0" height="3.0" fill="#8e8e8e"/>
<rect x="137.7" y="295.9" width="3.0" height="3.0" fill="#8e8e8e"/>
<rect x="154.9" y="298.8" width="3.0" height="3.0" fill="#8e8e8e"/>
<rect x="172.1" y="286.7" width="3.0" height="3.0" fill="#8e8e8e"/>
<rect x="189.3" y="282.1" width="3.0" height="3.0" fill="#8e8e8e"/>
<rect x="206.6" y="319.8" width="3.0" height="3.0" fill="#8e8e8e"/>
<rect x="223.8" y="327.5" width="3.0" height="3.0" fill="#8e8e8e"/>
<rect x="241.0" y="328.5" width="3.0" height="3.0" fill="#8e8e8e"/>
<line x1="53.1" y1="348.0" x2="53.1" y2="357.9" stroke="#1a1a1a" stroke-width="1.0" />
<line x1="51.4" y1="348.0" x2="54.8" y2="348.0" stroke="#1a1a1a" stroke-width="1.0" />
<line x1="51.4" y1="357.9" x2="54.8" y2="357.9" stroke="#1a1a1a" stroke-width="1.0" />
<line x1="70.4" y1="352.1" x2="70.4" y2="360.3" stroke="#1a1a1a" stroke-width="1.0" />
<line x1="68.7" y1="352.1" x2="72.1" y2="352.1" stroke="#1a1a1a" stroke-width="1.0" />
<line x1="68.7" y1="360.3" x2="72.1" y2="360.3" stroke="#1a1a1a" stroke-width="1.0" />
<line x1="87.6" y1="350.2" x2="87.6" y2="358.4" stroke="#1a1a1a" stroke-width="1.0" />
<line x1="85.9" y1="350.2" x2="89.3" y2="350.2" stroke="#1a1a1a" stroke-width="1.0" />
<line x1="85.9" y1="358.4" x2="89.3" y2="358.4" stroke="#1a1a1a" stroke-width="1.0" />
<line x1="104.8" y1="304.6" x2="104.8" y2="318.6" stroke="#1a1a1a" stroke-width="1.0" />
<line x1="103.1" y1="304.6" x2="106.5" y2="304.6" stroke="#1a1a1a" stroke-width="1.0" />
<line x1="103.1" y1="318.6" x2="106.5" y2="318.6" stroke="#1a1a1a" stroke-width="1.0" />
<line x1="122.0" y1="289.7" x2="122.0" y2="304.6" stroke="#1a1a1a" stroke-width="1.0" />
<line x1="120.3" y1="289.7" x2="123.7" y2="289.7" stroke="#1a1a1a" stroke-width="1.0" />
<line x1="120.3" y1="304.6" x2="123.7" y2="304.6" stroke="#1a1a1a" stroke-width="1.0" />
<line x1="139.2" y1="280.4" x2="139.2" y2="298.5" stroke="#1a1a1a" stroke-width="1.0" />
<line x1="137.5" y1="280.4" x2="140.9" y2="280.4" stroke="#1a1a1a" stroke-width="1.0" />
<line x1="137.5" y1="298.5" x2="140.9" y2="298.5" stroke="#1a1a1a" stroke-width="1.0" />
<line x1="156.4" y1="286.5" x2="156.4" y2="301.4" stroke="#1a1a1a" stroke-width="1.0" />
<line x1="154.7" y1="286.5" x2="158.1" y2="286.5" stroke="#1a1a1a" stroke-width="1.0" />
<line x1="154.7" y1="301.4" x2="158.1" y2="301.4" stroke="#1a1a1a" stroke-width="1.0" />
<line x1="173.6" y1="268.8" x2="173.6" y2="288.6" stroke="#1a1a1a" stroke-width="1.0" />
<line x1="171.9" y1="268.8" x2="175.3" y2="268.8" stroke="#1a1a1a" stroke-width="1.0" />
<line x1="171.9" y1="288.6" x2="175.3" y2="288.6" stroke="#1a1a1a" stroke-width="1.0" />
<line x1="190.8" y1="261.4" x2="190.8" y2="282.8" stroke="#1a1a1a" stroke-width="1.0" />
<line x1="189.1" y1="261.4" x2="192.5" y2="261.4" stroke="#1a1a1a" stroke-width="1.0" />
<line x1="189.1" y1="282.8" x2="192.5" y2="282.8" stroke="#1a1a1a" stroke-width="1.0" />
<line x1="208.1" y1="317.6" x2="208.1" y2="325.0" stroke="#1a1a1a" stroke-width="1.0" />
<line x1="206.4" y1="317.6" x2="209.8" y2="317.6" stroke="#1a1a1a" stroke-width="1.0" />
<line x1="206.4" y1="325.0" x2="209.8" y2="325.0" stroke="#1a1a1a" stroke-width="1.0" />
<line x1="225.3" y1="320.6" x2="225.3" y2="328.8" stroke="#1a1a1a" stroke-width="1.0" />
<line x1="223.6" y1="320.6" x2="227.0" y2="320.6" stroke="#1a1a1a" stroke-width="1.0" />
<line x1="223.6" y1="328.8" x2="227.0" y2="328.8" stroke="#1a1a1a" stroke-width="1.0" />
<line x1="242.5" y1="320.7" x2="242.5" y2="330.6" stroke="#1a1a1a" stroke-width="1.0" />
<line x1="240.8" y1="320.7" x2="244.2" y2="320.7" stroke="#1a1a1a" stroke-width="1.0" />
<line x1="240.8" y1="330.6" x2="244.2" y2="330.6" stroke="#1a1a1a" stroke-width="1.0" />
<polyline points="53.1,353.0 70.4,356.2 87.6,354.3 104.8,311.6 122.0,297.1 139.2,289.4 156.4,294.0 173.6,278.7 190.8,272.1 208.1,321.3 225.3,324.7 242.5,325.6" fill="none" stroke="#1a1a1a" stroke-width="1.7" stroke-linejoin="round" />
<rect x="51.6" y="351.5" width="3.0" height="3.0" fill="#1a1a1a"/>
<rect x="68.9" y="354.7" width="3.0" height="3.0" fill="#1a1a1a"/>
<rect x="86.1" y="352.8" width="3.0" height="3.0" fill="#1a1a1a"/>
<rect x="103.3" y="310.1" width="3.0" height="3.0" fill="#1a1a1a"/>
<rect x="120.5" y="295.6" width="3.0" height="3.0" fill="#1a1a1a"/>
<rect x="137.7" y="287.9" width="3.0" height="3.0" fill="#1a1a1a"/>
<rect x="154.9" y="292.5" width="3.0" height="3.0" fill="#1a1a1a"/>
<rect x="172.1" y="277.2" width="3.0" height="3.0" fill="#1a1a1a"/>
<rect x="189.3" y="270.6" width="3.0" height="3.0" fill="#1a1a1a"/>
<rect x="206.6" y="319.8" width="3.0" height="3.0" fill="#1a1a1a"/>
<rect x="223.8" y="323.2" width="3.0" height="3.0" fill="#1a1a1a"/>
<rect x="241.0" y="324.1" width="3.0" height="3.0" fill="#1a1a1a"/>
<line x1="53.1" y1="361.1" x2="53.1" y2="365.2" stroke="#78c4ae" stroke-width="0.8" />
<line x1="51.4" y1="361.1" x2="54.8" y2="361.1" stroke="#78c4ae" stroke-width="0.8" />
<line x1="51.4" y1="365.2" x2="54.8" y2="365.2" stroke="#78c4ae" stroke-width="0.8" />
<line x1="70.4" y1="365.3" x2="70.4" y2="369.5" stroke="#78c4ae" stroke-width="0.8" />
<line x1="68.7" y1="365.3" x2="72.1" y2="365.3" stroke="#78c4ae" stroke-width="0.8" />
<line x1="68.7" y1="369.5" x2="72.1" y2="369.5" stroke="#78c4ae" stroke-width="0.8" />
<line x1="87.6" y1="364.4" x2="87.6" y2="368.5" stroke="#78c4ae" stroke-width="0.8" />
<line x1="85.9" y1="364.4" x2="89.3" y2="364.4" stroke="#78c4ae" stroke-width="0.8" />
<line x1="85.9" y1="368.5" x2="89.3" y2="368.5" stroke="#78c4ae" stroke-width="0.8" />
<line x1="104.8" y1="353.0" x2="104.8" y2="357.2" stroke="#78c4ae" stroke-width="0.8" />
<line x1="103.1" y1="353.0" x2="106.5" y2="353.0" stroke="#78c4ae" stroke-width="0.8" />
<line x1="103.1" y1="357.2" x2="106.5" y2="357.2" stroke="#78c4ae" stroke-width="0.8" />
<line x1="122.0" y1="345.9" x2="122.0" y2="350.1" stroke="#78c4ae" stroke-width="0.8" />
<line x1="120.3" y1="345.9" x2="123.7" y2="345.9" stroke="#78c4ae" stroke-width="0.8" />
<line x1="120.3" y1="350.1" x2="123.7" y2="350.1" stroke="#78c4ae" stroke-width="0.8" />
<line x1="139.2" y1="343.7" x2="139.2" y2="347.8" stroke="#78c4ae" stroke-width="0.8" />
<line x1="137.5" y1="343.7" x2="140.9" y2="343.7" stroke="#78c4ae" stroke-width="0.8" />
<line x1="137.5" y1="347.8" x2="140.9" y2="347.8" stroke="#78c4ae" stroke-width="0.8" />
<line x1="156.4" y1="348.5" x2="156.4" y2="352.6" stroke="#78c4ae" stroke-width="0.8" />
<line x1="154.7" y1="348.5" x2="158.1" y2="348.5" stroke="#78c4ae" stroke-width="0.8" />
<line x1="154.7" y1="352.6" x2="158.1" y2="352.6" stroke="#78c4ae" stroke-width="0.8" />
<line x1="173.6" y1="343.5" x2="173.6" y2="347.6" stroke="#78c4ae" stroke-width="0.8" />
<line x1="171.9" y1="343.5" x2="175.3" y2="343.5" stroke="#78c4ae" stroke-width="0.8" />
<line x1="171.9" y1="347.6" x2="175.3" y2="347.6" stroke="#78c4ae" stroke-width="0.8" />
<line x1="190.8" y1="341.5" x2="190.8" y2="345.6" stroke="#78c4ae" stroke-width="0.8" />
<line x1="189.1" y1="341.5" x2="192.5" y2="341.5" stroke="#78c4ae" stroke-width="0.8" />
<line x1="189.1" y1="345.6" x2="192.5" y2="345.6" stroke="#78c4ae" stroke-width="0.8" />
<line x1="208.1" y1="351.5" x2="208.1" y2="355.6" stroke="#78c4ae" stroke-width="0.8" />
<line x1="206.4" y1="351.5" x2="209.8" y2="351.5" stroke="#78c4ae" stroke-width="0.8" />
<line x1="206.4" y1="355.6" x2="209.8" y2="355.6" stroke="#78c4ae" stroke-width="0.8" />
<line x1="225.3" y1="351.5" x2="225.3" y2="355.6" stroke="#78c4ae" stroke-width="0.8" />
<line x1="223.6" y1="351.5" x2="227.0" y2="351.5" stroke="#78c4ae" stroke-width="0.8" />
<line x1="223.6" y1="355.6" x2="227.0" y2="355.6" stroke="#78c4ae" stroke-width="0.8" />
<line x1="242.5" y1="351.5" x2="242.5" y2="355.6" stroke="#78c4ae" stroke-width="0.8" />
<line x1="240.8" y1="351.5" x2="244.2" y2="351.5" stroke="#78c4ae" stroke-width="0.8" />
<line x1="240.8" y1="355.6" x2="244.2" y2="355.6" stroke="#78c4ae" stroke-width="0.8" />
<polyline points="53.1,363.1 70.4,367.4 87.6,366.4 104.8,355.1 122.0,348.0 139.2,345.8 156.4,350.6 173.6,345.5 190.8,343.5 208.1,353.5 225.3,353.5 242.5,353.5" fill="none" stroke="#78c4ae" stroke-width="1.4" stroke-linejoin="round" />
<rect x="52.0" y="362.0" width="2.2" height="2.2" fill="#78c4ae"/>
<rect x="69.3" y="366.3" width="2.2" height="2.2" fill="#78c4ae"/>
<rect x="86.5" y="365.3" width="2.2" height="2.2" fill="#78c4ae"/>
<rect x="103.7" y="354.0" width="2.2" height="2.2" fill="#78c4ae"/>
<rect x="120.9" y="346.9" width="2.2" height="2.2" fill="#78c4ae"/>
<rect x="138.1" y="344.7" width="2.2" height="2.2" fill="#78c4ae"/>
<rect x="155.3" y="349.5" width="2.2" height="2.2" fill="#78c4ae"/>
<rect x="172.5" y="344.4" width="2.2" height="2.2" fill="#78c4ae"/>
<rect x="189.7" y="342.4" width="2.2" height="2.2" fill="#78c4ae"/>
<rect x="207.0" y="352.4" width="2.2" height="2.2" fill="#78c4ae"/>
<rect x="224.2" y="352.4" width="2.2" height="2.2" fill="#78c4ae"/>
<rect x="241.4" y="352.4" width="2.2" height="2.2" fill="#78c4ae"/>
<line x1="53.1" y1="369.7" x2="53.1" y2="371.7" stroke="#6a9db6" stroke-width="0.8" />
<line x1="51.4" y1="369.7" x2="54.8" y2="369.7" stroke="#6a9db6" stroke-width="0.8" />
<line x1="51.4" y1="371.7" x2="54.8" y2="371.7" stroke="#6a9db6" stroke-width="0.8" />
<line x1="70.4" y1="369.7" x2="70.4" y2="371.7" stroke="#6a9db6" stroke-width="0.8" />
<line x1="68.7" y1="369.7" x2="72.1" y2="369.7" stroke="#6a9db6" stroke-width="0.8" />
<line x1="68.7" y1="371.7" x2="72.1" y2="371.7" stroke="#6a9db6" stroke-width="0.8" />
<line x1="87.6" y1="368.9" x2="87.6" y2="370.9" stroke="#6a9db6" stroke-width="0.8" />
<line x1="85.9" y1="368.9" x2="89.3" y2="368.9" stroke="#6a9db6" stroke-width="0.8" />
<line x1="85.9" y1="370.9" x2="89.3" y2="370.9" stroke="#6a9db6" stroke-width="0.8" />
<line x1="104.8" y1="365.9" x2="104.8" y2="367.9" stroke="#6a9db6" stroke-width="0.8" />
<line x1="103.1" y1="365.9" x2="106.5" y2="365.9" stroke="#6a9db6" stroke-width="0.8" />
<line x1="103.1" y1="367.9" x2="106.5" y2="367.9" stroke="#6a9db6" stroke-width="0.8" />
<line x1="122.0" y1="362.9" x2="122.0" y2="364.9" stroke="#6a9db6" stroke-width="0.8" />
<line x1="120.3" y1="362.9" x2="123.7" y2="362.9" stroke="#6a9db6" stroke-width="0.8" />
<line x1="120.3" y1="364.9" x2="123.7" y2="364.9" stroke="#6a9db6" stroke-width="0.8" />
<line x1="139.2" y1="361.2" x2="139.2" y2="363.2" stroke="#6a9db6" stroke-width="0.8" />
<line x1="137.5" y1="361.2" x2="140.9" y2="361.2" stroke="#6a9db6" stroke-width="0.8" />
<line x1="137.5" y1="363.2" x2="140.9" y2="363.2" stroke="#6a9db6" stroke-width="0.8" />
<line x1="156.4" y1="362.6" x2="156.4" y2="364.6" stroke="#6a9db6" stroke-width="0.8" />
<line x1="154.7" y1="362.6" x2="158.1" y2="362.6" stroke="#6a9db6" stroke-width="0.8" />
<line x1="154.7" y1="364.6" x2="158.1" y2="364.6" stroke="#6a9db6" stroke-width="0.8" />
<line x1="173.6" y1="361.2" x2="173.6" y2="363.2" stroke="#6a9db6" stroke-width="0.8" />
<line x1="171.9" y1="361.2" x2="175.3" y2="361.2" stroke="#6a9db6" stroke-width="0.8" />
<line x1="171.9" y1="363.2" x2="175.3" y2="363.2" stroke="#6a9db6" stroke-width="0.8" />
<line x1="190.8" y1="360.3" x2="190.8" y2="362.3" stroke="#6a9db6" stroke-width="0.8" />
<line x1="189.1" y1="360.3" x2="192.5" y2="360.3" stroke="#6a9db6" stroke-width="0.8" />
<line x1="189.1" y1="362.3" x2="192.5" y2="362.3" stroke="#6a9db6" stroke-width="0.8" />
<line x1="208.1" y1="364.0" x2="208.1" y2="366.0" stroke="#6a9db6" stroke-width="0.8" />
<line x1="206.4" y1="364.0" x2="209.8" y2="364.0" stroke="#6a9db6" stroke-width="0.8" />
<line x1="206.4" y1="366.0" x2="209.8" y2="366.0" stroke="#6a9db6" stroke-width="0.8" />
<line x1="225.3" y1="364.0" x2="225.3" y2="366.0" stroke="#6a9db6" stroke-width="0.8" />
<line x1="223.6" y1="364.0" x2="227.0" y2="364.0" stroke="#6a9db6" stroke-width="0.8" />
<line x1="223.6" y1="366.0" x2="227.0" y2="366.0" stroke="#6a9db6" stroke-width="0.8" />
<line x1="242.5" y1="363.2" x2="242.5" y2="365.2" stroke="#6a9db6" stroke-width="0.8" />
<line x1="240.8" y1="363.2" x2="244.2" y2="363.2" stroke="#6a9db6" stroke-width="0.8" />
<line x1="240.8" y1="365.2" x2="244.2" y2="365.2" stroke="#6a9db6" stroke-width="0.8" />
<polyline points="53.1,370.7 70.4,370.7 87.6,369.9 104.8,366.9 122.0,363.9 139.2,362.2 156.4,363.6 173.6,362.2 190.8,361.3 208.1,365.0 225.3,365.0 242.5,364.2" fill="none" stroke="#6a9db6" stroke-width="1.4" stroke-linejoin="round" />
<rect x="52.0" y="369.6" width="2.2" height="2.2" fill="#6a9db6"/>
<rect x="69.3" y="369.6" width="2.2" height="2.2" fill="#6a9db6"/>
<rect x="86.5" y="368.8" width="2.2" height="2.2" fill="#6a9db6"/>
<rect x="103.7" y="365.8" width="2.2" height="2.2" fill="#6a9db6"/>
<rect x="120.9" y="362.8" width="2.2" height="2.2" fill="#6a9db6"/>
<rect x="138.1" y="361.1" width="2.2" height="2.2" fill="#6a9db6"/>
<rect x="155.3" y="362.5" width="2.2" height="2.2" fill="#6a9db6"/>
<rect x="172.5" y="361.1" width="2.2" height="2.2" fill="#6a9db6"/>
<rect x="189.7" y="360.2" width="2.2" height="2.2" fill="#6a9db6"/>
<rect x="207.0" y="363.9" width="2.2" height="2.2" fill="#6a9db6"/>
<rect x="224.2" y="363.9" width="2.2" height="2.2" fill="#6a9db6"/>
<rect x="241.4" y="363.1" width="2.2" height="2.2" fill="#6a9db6"/>
<circle cx="119.7" cy="340.3" r="1.55" fill="#1a1a1a"/>
<circle cx="124.7" cy="340.3" r="1.55" fill="#1a1a1a"/>
<circle cx="120.0" cy="358.4" r="1.55" fill="#1a1a1a"/>
<circle cx="125.0" cy="358.4" r="1.55" fill="#1a1a1a"/>
<circle cx="171.7" cy="337.5" r="1.55" fill="#1a1a1a"/>
<circle cx="176.7" cy="337.5" r="1.55" fill="#1a1a1a"/>
<circle cx="170.2" cy="356.3" r="1.55" fill="#1a1a1a"/>
<circle cx="175.2" cy="356.3" r="1.55" fill="#1a1a1a"/>
<circle cx="180.2" cy="356.3" r="1.55" fill="#1a1a1a"/>
<line x1="299.8" y1="249.4" x2="299.8" y2="382.9" stroke="#1a1a1a" stroke-width="1.5" />
<line x1="299.2" y1="382.3" x2="499.1" y2="382.3" stroke="#1a1a1a" stroke-width="1.5" />
<line x1="296.3" y1="382.3" x2="299.8" y2="382.3" stroke="#1a1a1a" stroke-width="1.2" />
<text x="295.2" y="385.6" font-size="9.3" text-anchor="end" fill="#222" >20</text>
<line x1="296.3" y1="355.8" x2="299.8" y2="355.8" stroke="#1a1a1a" stroke-width="1.2" />
<text x="295.2" y="359.1" font-size="9.3" text-anchor="end" fill="#222" >30</text>
<line x1="296.3" y1="329.3" x2="299.8" y2="329.3" stroke="#1a1a1a" stroke-width="1.2" />
<text x="295.2" y="332.6" font-size="9.3" text-anchor="end" fill="#222" >40</text>
<line x1="296.3" y1="302.9" x2="299.8" y2="302.9" stroke="#1a1a1a" stroke-width="1.2" />
<text x="295.2" y="306.2" font-size="9.3" text-anchor="end" fill="#222" >50</text>
<line x1="296.3" y1="276.4" x2="299.8" y2="276.4" stroke="#1a1a1a" stroke-width="1.2" />
<text x="295.2" y="279.7" font-size="9.3" text-anchor="end" fill="#222" >60</text>
<line x1="296.3" y1="249.9" x2="299.8" y2="249.9" stroke="#1a1a1a" stroke-width="1.2" />
<text x="295.2" y="253.2" font-size="9.3" text-anchor="end" fill="#222" >70</text>
<line x1="300.2" y1="382.3" x2="300.2" y2="385.8" stroke="#1a1a1a" stroke-width="1.2" />
<text x="300.2" y="395.5" font-size="9.6" text-anchor="middle" fill="#222" >0</text>
<line x1="339.9" y1="382.3" x2="339.9" y2="385.8" stroke="#1a1a1a" stroke-width="1.2" />
<text x="339.9" y="395.5" font-size="9.6" text-anchor="middle" fill="#222" >15</text>
<line x1="379.5" y1="382.3" x2="379.5" y2="385.8" stroke="#1a1a1a" stroke-width="1.2" />
<text x="379.5" y="395.5" font-size="9.6" text-anchor="middle" fill="#222" >30</text>
<line x1="419.2" y1="382.3" x2="419.2" y2="385.8" stroke="#1a1a1a" stroke-width="1.2" />
<text x="419.2" y="395.5" font-size="9.6" text-anchor="middle" fill="#222" >45</text>
<line x1="458.8" y1="382.3" x2="458.8" y2="385.8" stroke="#1a1a1a" stroke-width="1.2" />
<text x="458.8" y="395.5" font-size="9.6" text-anchor="middle" fill="#222" >60</text>
<line x1="498.5" y1="382.3" x2="498.5" y2="385.8" stroke="#1a1a1a" stroke-width="1.2" />
<text x="498.5" y="395.5" font-size="9.6" text-anchor="middle" fill="#222" >75</text>
<text x="399.4" y="407.3" font-size="9.3" text-anchor="middle" fill="#222" >Time (minutes)</text>
<text transform="translate(276.3,314.8) rotate(-90)" font-size="10.05" text-anchor="middle" fill="#222">OCAR (pmol/min)</text>
<line x1="346.3" y1="251" x2="346.3" y2="382.3" stroke="#2a2a2a" stroke-width="1.5" stroke-dasharray="2.0,2.2"/>
<text x="345.9" y="247.3" font-size="9.3" text-anchor="middle" fill="#222" >Oligomycin</text>
<line x1="397.9" y1="251" x2="397.9" y2="382.3" stroke="#2a2a2a" stroke-width="1.5" stroke-dasharray="2.0,2.2"/>
<text x="397.5" y="247.3" font-size="9.3" text-anchor="middle" fill="#222" >FCCP</text>
<line x1="449.8" y1="251" x2="449.8" y2="382.3" stroke="#2a2a2a" stroke-width="1.5" stroke-dasharray="2.0,2.2"/>
<text x="449.3" y="247.3" font-size="9.3" text-anchor="middle" fill="#222" >Rot/AA</text>
<line x1="292.2" y1="209.0" x2="306.2" y2="209.0" stroke="#1a1a1a" stroke-width="1.8" />
<g clip-path="url(#legclip)">
<text x="314.4" y="212.5" font-size="9.3" text-anchor="start" fill="#222" >Control</text>
</g>
<line x1="292.2" y1="226.7" x2="306.2" y2="226.7" stroke="#8e8e8e" stroke-width="1.8" />
<g clip-path="url(#legclip)">
<text x="314.4" y="230.2" font-size="9.3" text-anchor="start" fill="#222" >PolySia 0.85 μM</text>
</g>
<line x1="388.5" y1="208.7" x2="402.5" y2="208.7" stroke="#78c4ae" stroke-width="1.8" />
<g clip-path="url(#legclip)">
<text x="410.7" y="212.2" font-size="9.3" text-anchor="start" fill="#222" >Folate-polySia 0.85 μM</text>
</g>
<line x1="388.5" y1="226.9" x2="402.5" y2="226.9" stroke="#6a9db6" stroke-width="1.8" />
<g clip-path="url(#legclip)">
<text x="410.7" y="230.4" font-size="9.3" text-anchor="start" fill="#222" >Folate-polySia 1.7 μM</text>
</g>
<line x1="303.6" y1="261.0" x2="303.6" y2="274.3" stroke="#8e8e8e" stroke-width="1.0" />
<line x1="301.9" y1="261.0" x2="305.3" y2="261.0" stroke="#8e8e8e" stroke-width="1.0" />
<line x1="301.9" y1="274.3" x2="305.3" y2="274.3" stroke="#8e8e8e" stroke-width="1.0" />
<line x1="320.8" y1="278.8" x2="320.8" y2="292.0" stroke="#8e8e8e" stroke-width="1.0" />
<line x1="319.1" y1="278.8" x2="322.5" y2="278.8" stroke="#8e8e8e" stroke-width="1.0" />
<line x1="319.1" y1="292.0" x2="322.5" y2="292.0" stroke="#8e8e8e" stroke-width="1.0" />
<line x1="338.0" y1="281.4" x2="338.0" y2="289.4" stroke="#8e8e8e" stroke-width="1.0" />
<line x1="336.3" y1="281.4" x2="339.7" y2="281.4" stroke="#8e8e8e" stroke-width="1.0" />
<line x1="336.3" y1="289.4" x2="339.7" y2="289.4" stroke="#8e8e8e" stroke-width="1.0" />
<line x1="355.2" y1="318.5" x2="355.2" y2="326.4" stroke="#8e8e8e" stroke-width="1.0" />
<line x1="353.5" y1="318.5" x2="356.9" y2="318.5" stroke="#8e8e8e" stroke-width="1.0" />
<line x1="353.5" y1="326.4" x2="356.9" y2="326.4" stroke="#8e8e8e" stroke-width="1.0" />
<line x1="372.4" y1="320.1" x2="372.4" y2="328.0" stroke="#8e8e8e" stroke-width="1.0" />
<line x1="370.7" y1="320.1" x2="374.1" y2="320.1" stroke="#8e8e8e" stroke-width="1.0" />
<line x1="370.7" y1="328.0" x2="374.1" y2="328.0" stroke="#8e8e8e" stroke-width="1.0" />
<line x1="389.6" y1="318.5" x2="389.6" y2="326.4" stroke="#8e8e8e" stroke-width="1.0" />
<line x1="387.9" y1="318.5" x2="391.3" y2="318.5" stroke="#8e8e8e" stroke-width="1.0" />
<line x1="387.9" y1="326.4" x2="391.3" y2="326.4" stroke="#8e8e8e" stroke-width="1.0" />
<line x1="406.8" y1="280.9" x2="406.8" y2="288.8" stroke="#8e8e8e" stroke-width="1.0" />
<line x1="405.1" y1="280.9" x2="408.5" y2="280.9" stroke="#8e8e8e" stroke-width="1.0" />
<line x1="405.1" y1="288.8" x2="408.5" y2="288.8" stroke="#8e8e8e" stroke-width="1.0" />
<line x1="423.9" y1="279.3" x2="423.9" y2="287.2" stroke="#8e8e8e" stroke-width="1.0" />
<line x1="422.2" y1="279.3" x2="425.6" y2="279.3" stroke="#8e8e8e" stroke-width="1.0" />
<line x1="422.2" y1="287.2" x2="425.6" y2="287.2" stroke="#8e8e8e" stroke-width="1.0" />
<line x1="441.1" y1="280.1" x2="441.1" y2="288.0" stroke="#8e8e8e" stroke-width="1.0" />
<line x1="439.4" y1="280.1" x2="442.8" y2="280.1" stroke="#8e8e8e" stroke-width="1.0" />
<line x1="439.4" y1="288.0" x2="442.8" y2="288.0" stroke="#8e8e8e" stroke-width="1.0" />
<line x1="458.3" y1="323.8" x2="458.3" y2="352.9" stroke="#8e8e8e" stroke-width="1.0" />
<line x1="456.6" y1="323.8" x2="460.0" y2="323.8" stroke="#8e8e8e" stroke-width="1.0" />
<line x1="456.6" y1="352.9" x2="460.0" y2="352.9" stroke="#8e8e8e" stroke-width="1.0" />
<line x1="475.5" y1="339.4" x2="475.5" y2="355.3" stroke="#8e8e8e" stroke-width="1.0" />
<line x1="473.8" y1="339.4" x2="477.2" y2="339.4" stroke="#8e8e8e" stroke-width="1.0" />
<line x1="473.8" y1="355.3" x2="477.2" y2="355.3" stroke="#8e8e8e" stroke-width="1.0" />
<line x1="492.7" y1="333.3" x2="492.7" y2="354.5" stroke="#8e8e8e" stroke-width="1.0" />
<line x1="491.0" y1="333.3" x2="494.4" y2="333.3" stroke="#8e8e8e" stroke-width="1.0" />
<line x1="491.0" y1="354.5" x2="494.4" y2="354.5" stroke="#8e8e8e" stroke-width="1.0" />
<polyline points="303.6,267.6 320.8,285.4 338.0,285.4 355.2,322.5 372.4,324.0 389.6,322.5 406.8,284.9 423.9,283.3 441.1,284.1 458.3,338.3 475.5,347.3 492.7,343.9" fill="none" stroke="#8e8e8e" stroke-width="1.5" stroke-linejoin="round" />
<rect x="302.1" y="266.1" width="3.0" height="3.0" fill="#8e8e8e"/>
<rect x="319.3" y="283.9" width="3.0" height="3.0" fill="#8e8e8e"/>
<rect x="336.5" y="283.9" width="3.0" height="3.0" fill="#8e8e8e"/>
<rect x="353.7" y="321.0" width="3.0" height="3.0" fill="#8e8e8e"/>
<rect x="370.9" y="322.5" width="3.0" height="3.0" fill="#8e8e8e"/>
<rect x="388.1" y="321.0" width="3.0" height="3.0" fill="#8e8e8e"/>
<rect x="405.3" y="283.4" width="3.0" height="3.0" fill="#8e8e8e"/>
<rect x="422.4" y="281.8" width="3.0" height="3.0" fill="#8e8e8e"/>
<rect x="439.6" y="282.6" width="3.0" height="3.0" fill="#8e8e8e"/>
<rect x="456.8" y="336.8" width="3.0" height="3.0" fill="#8e8e8e"/>
<rect x="474.0" y="345.8" width="3.0" height="3.0" fill="#8e8e8e"/>
<rect x="491.2" y="342.4" width="3.0" height="3.0" fill="#8e8e8e"/>
<line x1="303.6" y1="268.7" x2="303.6" y2="276.6" stroke="#1a1a1a" stroke-width="1.0" />
<line x1="301.9" y1="268.7" x2="305.3" y2="268.7" stroke="#1a1a1a" stroke-width="1.0" />
<line x1="301.9" y1="276.6" x2="305.3" y2="276.6" stroke="#1a1a1a" stroke-width="1.0" />
<line x1="320.8" y1="278.2" x2="320.8" y2="286.2" stroke="#1a1a1a" stroke-width="1.0" />
<line x1="319.1" y1="278.2" x2="322.5" y2="278.2" stroke="#1a1a1a" stroke-width="1.0" />
<line x1="319.1" y1="286.2" x2="322.5" y2="286.2" stroke="#1a1a1a" stroke-width="1.0" />
<line x1="338.0" y1="280.4" x2="338.0" y2="285.6" stroke="#1a1a1a" stroke-width="1.0" />
<line x1="336.3" y1="280.4" x2="339.7" y2="280.4" stroke="#1a1a1a" stroke-width="1.0" />
<line x1="336.3" y1="285.6" x2="339.7" y2="285.6" stroke="#1a1a1a" stroke-width="1.0" />
<line x1="355.2" y1="327.8" x2="355.2" y2="335.7" stroke="#1a1a1a" stroke-width="1.0" />
<line x1="353.5" y1="327.8" x2="356.9" y2="327.8" stroke="#1a1a1a" stroke-width="1.0" />
<line x1="353.5" y1="335.7" x2="356.9" y2="335.7" stroke="#1a1a1a" stroke-width="1.0" />
<line x1="372.4" y1="327.0" x2="372.4" y2="334.9" stroke="#1a1a1a" stroke-width="1.0" />
<line x1="370.7" y1="327.0" x2="374.1" y2="327.0" stroke="#1a1a1a" stroke-width="1.0" />
<line x1="370.7" y1="334.9" x2="374.1" y2="334.9" stroke="#1a1a1a" stroke-width="1.0" />
<line x1="389.6" y1="327.0" x2="389.6" y2="334.9" stroke="#1a1a1a" stroke-width="1.0" />
<line x1="387.9" y1="327.0" x2="391.3" y2="327.0" stroke="#1a1a1a" stroke-width="1.0" />
<line x1="387.9" y1="334.9" x2="391.3" y2="334.9" stroke="#1a1a1a" stroke-width="1.0" />
<line x1="406.8" y1="284.9" x2="406.8" y2="292.8" stroke="#1a1a1a" stroke-width="1.0" />
<line x1="405.1" y1="284.9" x2="408.5" y2="284.9" stroke="#1a1a1a" stroke-width="1.0" />
<line x1="405.1" y1="292.8" x2="408.5" y2="292.8" stroke="#1a1a1a" stroke-width="1.0" />
<line x1="423.9" y1="283.5" x2="423.9" y2="291.5" stroke="#1a1a1a" stroke-width="1.0" />
<line x1="422.2" y1="283.5" x2="425.6" y2="283.5" stroke="#1a1a1a" stroke-width="1.0" />
<line x1="422.2" y1="291.5" x2="425.6" y2="291.5" stroke="#1a1a1a" stroke-width="1.0" />
<line x1="441.1" y1="285.9" x2="441.1" y2="293.9" stroke="#1a1a1a" stroke-width="1.0" />
<line x1="439.4" y1="285.9" x2="442.8" y2="285.9" stroke="#1a1a1a" stroke-width="1.0" />
<line x1="439.4" y1="293.9" x2="442.8" y2="293.9" stroke="#1a1a1a" stroke-width="1.0" />
<line x1="458.3" y1="350.3" x2="458.3" y2="356.6" stroke="#1a1a1a" stroke-width="1.0" />
<line x1="456.6" y1="350.3" x2="460.0" y2="350.3" stroke="#1a1a1a" stroke-width="1.0" />
<line x1="456.6" y1="356.6" x2="460.0" y2="356.6" stroke="#1a1a1a" stroke-width="1.0" />
<line x1="475.5" y1="350.8" x2="475.5" y2="357.1" stroke="#1a1a1a" stroke-width="1.0" />
<line x1="473.8" y1="350.8" x2="477.2" y2="350.8" stroke="#1a1a1a" stroke-width="1.0" />
<line x1="473.8" y1="357.1" x2="477.2" y2="357.1" stroke="#1a1a1a" stroke-width="1.0" />
<line x1="492.7" y1="351.8" x2="492.7" y2="358.2" stroke="#1a1a1a" stroke-width="1.0" />
<line x1="491.0" y1="351.8" x2="494.4" y2="351.8" stroke="#1a1a1a" stroke-width="1.0" />
<line x1="491.0" y1="358.2" x2="494.4" y2="358.2" stroke="#1a1a1a" stroke-width="1.0" />
<polyline points="303.6,272.7 320.8,282.2 338.0,283.0 355.2,331.7 372.4,330.9 389.6,330.9 406.8,288.8 423.9,287.5 441.1,289.9 458.3,353.4 475.5,354.0 492.7,355.0" fill="none" stroke="#1a1a1a" stroke-width="1.7" stroke-linejoin="round" />
<rect x="302.1" y="271.2" width="3.0" height="3.0" fill="#1a1a1a"/>
<rect x="319.3" y="280.7" width="3.0" height="3.0" fill="#1a1a1a"/>
<rect x="336.5" y="281.5" width="3.0" height="3.0" fill="#1a1a1a"/>
<rect x="353.7" y="330.2" width="3.0" height="3.0" fill="#1a1a1a"/>
<rect x="370.9" y="329.4" width="3.0" height="3.0" fill="#1a1a1a"/>
<rect x="388.1" y="329.4" width="3.0" height="3.0" fill="#1a1a1a"/>
<rect x="405.3" y="287.3" width="3.0" height="3.0" fill="#1a1a1a"/>
<rect x="422.4" y="286.0" width="3.0" height="3.0" fill="#1a1a1a"/>
<rect x="439.6" y="288.4" width="3.0" height="3.0" fill="#1a1a1a"/>
<rect x="456.8" y="351.9" width="3.0" height="3.0" fill="#1a1a1a"/>
<rect x="474.0" y="352.5" width="3.0" height="3.0" fill="#1a1a1a"/>
<rect x="491.2" y="353.5" width="3.0" height="3.0" fill="#1a1a1a"/>
<line x1="303.6" y1="292.8" x2="303.6" y2="303.4" stroke="#86c8b8" stroke-width="0.8" />
<line x1="301.9" y1="292.8" x2="305.3" y2="292.8" stroke="#86c8b8" stroke-width="0.8" />
<line x1="301.9" y1="303.4" x2="305.3" y2="303.4" stroke="#86c8b8" stroke-width="0.8" />
<line x1="320.8" y1="293.6" x2="320.8" y2="309.5" stroke="#86c8b8" stroke-width="0.8" />
<line x1="319.1" y1="293.6" x2="322.5" y2="293.6" stroke="#86c8b8" stroke-width="0.8" />
<line x1="319.1" y1="309.5" x2="322.5" y2="309.5" stroke="#86c8b8" stroke-width="0.8" />
<line x1="338.0" y1="297.6" x2="338.0" y2="308.2" stroke="#86c8b8" stroke-width="0.8" />
<line x1="336.3" y1="297.6" x2="339.7" y2="297.6" stroke="#86c8b8" stroke-width="0.8" />
<line x1="336.3" y1="308.2" x2="339.7" y2="308.2" stroke="#86c8b8" stroke-width="0.8" />
<line x1="355.2" y1="323.2" x2="355.2" y2="331.2" stroke="#86c8b8" stroke-width="0.8" />
<line x1="353.5" y1="323.2" x2="356.9" y2="323.2" stroke="#86c8b8" stroke-width="0.8" />
<line x1="353.5" y1="331.2" x2="356.9" y2="331.2" stroke="#86c8b8" stroke-width="0.8" />
<line x1="372.4" y1="321.9" x2="372.4" y2="332.5" stroke="#86c8b8" stroke-width="0.8" />
<line x1="370.7" y1="321.9" x2="374.1" y2="321.9" stroke="#86c8b8" stroke-width="0.8" />
<line x1="370.7" y1="332.5" x2="374.1" y2="332.5" stroke="#86c8b8" stroke-width="0.8" />
<line x1="389.6" y1="320.9" x2="389.6" y2="331.5" stroke="#86c8b8" stroke-width="0.8" />
<line x1="387.9" y1="320.9" x2="391.3" y2="320.9" stroke="#86c8b8" stroke-width="0.8" />
<line x1="387.9" y1="331.5" x2="391.3" y2="331.5" stroke="#86c8b8" stroke-width="0.8" />
<line x1="406.8" y1="311.3" x2="406.8" y2="327.2" stroke="#86c8b8" stroke-width="0.8" />
<line x1="405.1" y1="311.3" x2="408.5" y2="311.3" stroke="#86c8b8" stroke-width="0.8" />
<line x1="405.1" y1="327.2" x2="408.5" y2="327.2" stroke="#86c8b8" stroke-width="0.8" />
<line x1="423.9" y1="311.3" x2="423.9" y2="327.2" stroke="#86c8b8" stroke-width="0.8" />
<line x1="422.2" y1="311.3" x2="425.6" y2="311.3" stroke="#86c8b8" stroke-width="0.8" />
<line x1="422.2" y1="327.2" x2="425.6" y2="327.2" stroke="#86c8b8" stroke-width="0.8" />
<line x1="441.1" y1="315.6" x2="441.1" y2="327.8" stroke="#86c8b8" stroke-width="0.8" />
<line x1="439.4" y1="315.6" x2="442.8" y2="315.6" stroke="#86c8b8" stroke-width="0.8" />
<line x1="439.4" y1="327.8" x2="442.8" y2="327.8" stroke="#86c8b8" stroke-width="0.8" />
<line x1="458.3" y1="341.5" x2="458.3" y2="352.1" stroke="#86c8b8" stroke-width="0.8" />
<line x1="456.6" y1="341.5" x2="460.0" y2="341.5" stroke="#86c8b8" stroke-width="0.8" />
<line x1="456.6" y1="352.1" x2="460.0" y2="352.1" stroke="#86c8b8" stroke-width="0.8" />
<line x1="475.5" y1="342.6" x2="475.5" y2="353.2" stroke="#86c8b8" stroke-width="0.8" />
<line x1="473.8" y1="342.6" x2="477.2" y2="342.6" stroke="#86c8b8" stroke-width="0.8" />
<line x1="473.8" y1="353.2" x2="477.2" y2="353.2" stroke="#86c8b8" stroke-width="0.8" />
<line x1="492.7" y1="342.1" x2="492.7" y2="352.6" stroke="#86c8b8" stroke-width="0.8" />
<line x1="491.0" y1="342.1" x2="494.4" y2="342.1" stroke="#86c8b8" stroke-width="0.8" />
<line x1="491.0" y1="352.6" x2="494.4" y2="352.6" stroke="#86c8b8" stroke-width="0.8" />
<polyline points="303.6,298.1 320.8,301.5 338.0,302.9 355.2,327.2 372.4,327.2 389.6,326.2 406.8,319.3 423.9,319.3 441.1,321.7 458.3,346.8 475.5,347.9 492.7,347.3" fill="none" stroke="#86c8b8" stroke-width="1.25" stroke-linejoin="round" />
<rect x="302.5" y="297.0" width="2.2" height="2.2" fill="#86c8b8"/>
<rect x="319.7" y="300.4" width="2.2" height="2.2" fill="#86c8b8"/>
<rect x="336.9" y="301.8" width="2.2" height="2.2" fill="#86c8b8"/>
<rect x="354.1" y="326.1" width="2.2" height="2.2" fill="#86c8b8"/>
<rect x="371.3" y="326.1" width="2.2" height="2.2" fill="#86c8b8"/>
<rect x="388.5" y="325.1" width="2.2" height="2.2" fill="#86c8b8"/>
<rect x="405.7" y="318.2" width="2.2" height="2.2" fill="#86c8b8"/>
<rect x="422.8" y="318.2" width="2.2" height="2.2" fill="#86c8b8"/>
<rect x="440.0" y="320.6" width="2.2" height="2.2" fill="#86c8b8"/>
<rect x="457.2" y="345.7" width="2.2" height="2.2" fill="#86c8b8"/>
<rect x="474.4" y="346.8" width="2.2" height="2.2" fill="#86c8b8"/>
<rect x="491.6" y="346.2" width="2.2" height="2.2" fill="#86c8b8"/>
<line x1="303.6" y1="298.9" x2="303.6" y2="309.5" stroke="#6fa6b4" stroke-width="0.8" />
<line x1="301.9" y1="298.9" x2="305.3" y2="298.9" stroke="#6fa6b4" stroke-width="0.8" />
<line x1="301.9" y1="309.5" x2="305.3" y2="309.5" stroke="#6fa6b4" stroke-width="0.8" />
<line x1="320.8" y1="301.5" x2="320.8" y2="312.1" stroke="#6fa6b4" stroke-width="0.8" />
<line x1="319.1" y1="301.5" x2="322.5" y2="301.5" stroke="#6fa6b4" stroke-width="0.8" />
<line x1="319.1" y1="312.1" x2="322.5" y2="312.1" stroke="#6fa6b4" stroke-width="0.8" />
<line x1="338.0" y1="302.6" x2="338.0" y2="313.2" stroke="#6fa6b4" stroke-width="0.8" />
<line x1="336.3" y1="302.6" x2="339.7" y2="302.6" stroke="#6fa6b4" stroke-width="0.8" />
<line x1="336.3" y1="313.2" x2="339.7" y2="313.2" stroke="#6fa6b4" stroke-width="0.8" />
<line x1="355.2" y1="330.4" x2="355.2" y2="338.3" stroke="#6fa6b4" stroke-width="0.8" />
<line x1="353.5" y1="330.4" x2="356.9" y2="330.4" stroke="#6fa6b4" stroke-width="0.8" />
<line x1="353.5" y1="338.3" x2="356.9" y2="338.3" stroke="#6fa6b4" stroke-width="0.8" />
<line x1="372.4" y1="330.4" x2="372.4" y2="338.3" stroke="#6fa6b4" stroke-width="0.8" />
<line x1="370.7" y1="330.4" x2="374.1" y2="330.4" stroke="#6fa6b4" stroke-width="0.8" />
<line x1="370.7" y1="338.3" x2="374.1" y2="338.3" stroke="#6fa6b4" stroke-width="0.8" />
<line x1="389.6" y1="329.3" x2="389.6" y2="337.3" stroke="#6fa6b4" stroke-width="0.8" />
<line x1="387.9" y1="329.3" x2="391.3" y2="329.3" stroke="#6fa6b4" stroke-width="0.8" />
<line x1="387.9" y1="337.3" x2="391.3" y2="337.3" stroke="#6fa6b4" stroke-width="0.8" />
<line x1="406.8" y1="317.2" x2="406.8" y2="327.8" stroke="#6fa6b4" stroke-width="0.8" />
<line x1="405.1" y1="317.2" x2="408.5" y2="317.2" stroke="#6fa6b4" stroke-width="0.8" />
<line x1="405.1" y1="327.8" x2="408.5" y2="327.8" stroke="#6fa6b4" stroke-width="0.8" />
<line x1="423.9" y1="317.2" x2="423.9" y2="327.8" stroke="#6fa6b4" stroke-width="0.8" />
<line x1="422.2" y1="317.2" x2="425.6" y2="317.2" stroke="#6fa6b4" stroke-width="0.8" />
<line x1="422.2" y1="327.8" x2="425.6" y2="327.8" stroke="#6fa6b4" stroke-width="0.8" />
<line x1="441.1" y1="317.2" x2="441.1" y2="327.8" stroke="#6fa6b4" stroke-width="0.8" />
<line x1="439.4" y1="317.2" x2="442.8" y2="317.2" stroke="#6fa6b4" stroke-width="0.8" />
<line x1="439.4" y1="327.8" x2="442.8" y2="327.8" stroke="#6fa6b4" stroke-width="0.8" />
<line x1="458.3" y1="348.7" x2="458.3" y2="356.6" stroke="#6fa6b4" stroke-width="0.8" />
<line x1="456.6" y1="348.7" x2="460.0" y2="348.7" stroke="#6fa6b4" stroke-width="0.8" />
<line x1="456.6" y1="356.6" x2="460.0" y2="356.6" stroke="#6fa6b4" stroke-width="0.8" />
<line x1="475.5" y1="347.1" x2="475.5" y2="355.0" stroke="#6fa6b4" stroke-width="0.8" />
<line x1="473.8" y1="347.1" x2="477.2" y2="347.1" stroke="#6fa6b4" stroke-width="0.8" />
<line x1="473.8" y1="355.0" x2="477.2" y2="355.0" stroke="#6fa6b4" stroke-width="0.8" />
<line x1="492.7" y1="346.6" x2="492.7" y2="354.5" stroke="#6fa6b4" stroke-width="0.8" />
<line x1="491.0" y1="346.6" x2="494.4" y2="346.6" stroke="#6fa6b4" stroke-width="0.8" />
<line x1="491.0" y1="354.5" x2="494.4" y2="354.5" stroke="#6fa6b4" stroke-width="0.8" />
<polyline points="303.6,304.2 320.8,306.8 338.0,307.9 355.2,334.4 372.4,334.4 389.6,333.3 406.8,322.5 423.9,322.5 441.1,322.5 458.3,352.6 475.5,351.1 492.7,350.5" fill="none" stroke="#6fa6b4" stroke-width="1.25" stroke-linejoin="round" />
<rect x="302.5" y="303.1" width="2.2" height="2.2" fill="#6fa6b4"/>
<rect x="319.7" y="305.7" width="2.2" height="2.2" fill="#6fa6b4"/>
<rect x="336.9" y="306.8" width="2.2" height="2.2" fill="#6fa6b4"/>
<rect x="354.1" y="333.3" width="2.2" height="2.2" fill="#6fa6b4"/>
<rect x="371.3" y="333.3" width="2.2" height="2.2" fill="#6fa6b4"/>
<rect x="388.5" y="332.2" width="2.2" height="2.2" fill="#6fa6b4"/>
<rect x="405.7" y="321.4" width="2.2" height="2.2" fill="#6fa6b4"/>
<rect x="422.8" y="321.4" width="2.2" height="2.2" fill="#6fa6b4"/>
<rect x="440.0" y="321.4" width="2.2" height="2.2" fill="#6fa6b4"/>
<rect x="457.2" y="351.5" width="2.2" height="2.2" fill="#6fa6b4"/>
<rect x="474.4" y="350.0" width="2.2" height="2.2" fill="#6fa6b4"/>
<rect x="491.6" y="349.4" width="2.2" height="2.2" fill="#6fa6b4"/>
<circle cx="320.5" cy="294.9" r="1.55" fill="#1a1a1a"/>
<circle cx="320.5" cy="317.6" r="1.55" fill="#1a1a1a"/>
<circle cx="423.8" cy="307.2" r="1.55" fill="#1a1a1a"/>
<circle cx="423.8" cy="334.3" r="1.55" fill="#1a1a1a"/>
<defs><clipPath id="dclip"><rect x="532" y="166" width="258" height="226.5"/></clipPath><radialGradient id="gsph" cx="0.4" cy="0.38" r="0.68"><stop offset="0" stop-color="#f2f2f2"/><stop offset="0.6" stop-color="#d4d4d4"/><stop offset="1" stop-color="#a2a2a2"/></radialGradient><radialGradient id="bhead" cx="0.4" cy="0.35" r="0.75"><stop offset="0" stop-color="#2a4fb0"/><stop offset="1" stop-color="#10287a"/></radialGradient><radialGradient id="tail" cx="0.4" cy="0.4" r="0.7"><stop offset="0" stop-color="#f6f4a8"/><stop offset="0.7" stop-color="#e4e07a"/><stop offset="1" stop-color="#bcb650"/></radialGradient><linearGradient id="bbox" x1="0" y1="0" x2="0" y2="1"><stop offset="0" stop-color="#90b8e4"/><stop offset="0.4" stop-color="#cfe0f3"/><stop offset="1" stop-color="#78a4d6"/></linearGradient><radialGradient id="rbox" cx="0.5" cy="0.42" r="0.62" gradientTransform="translate(0.5,0.42) scale(1,1.6) translate(-0.5,-0.42)"><stop offset="0" stop-color="#f8d6dc"/><stop offset="0.35" stop-color="#ee96a2"/><stop offset="0.8" stop-color="#e04454"/><stop offset="1" stop-color="#d6303e"/></radialGradient></defs>
<g clip-path="url(#dclip)">
<ellipse cx="775.0" cy="370.4" rx="249.5" ry="197.0" fill="#e9f1fa"/>
<ellipse cx="775.0" cy="370.4" rx="236.5" ry="184.0" fill="#fbfcf6"/>
<ellipse cx="775.0" cy="370.4" rx="218.0" ry="165.5" fill="#f5da94"/>
<circle cx="926.4" cy="196.8" r="4.7" fill="url(#gsph)" stroke="#b4b4b4" stroke-width="0.5"/>
<circle cx="919.0" cy="192.8" r="4.7" fill="url(#gsph)" stroke="#b4b4b4" stroke-width="0.5"/>
<circle cx="911.5" cy="189.0" r="4.7" fill="url(#gsph)" stroke="#b4b4b4" stroke-width="0.5"/>
<circle cx="903.7" cy="185.4" r="4.7" fill="url(#gsph)" stroke="#b4b4b4" stroke-width="0.5"/>
<circle cx="895.9" cy="182.1" r="4.7" fill="url(#gsph)" stroke="#b4b4b4" stroke-width="0.5"/>
<circle cx="887.9" cy="178.9" r="4.7" fill="url(#gsph)" stroke="#b4b4b4" stroke-width="0.5"/>
<circle cx="880.0" cy="176.0" r="4.7" fill="url(#gsph)" stroke="#b4b4b4" stroke-width="0.5"/>
<circle cx="871.9" cy="173.4" r="4.7" fill="url(#gsph)" stroke="#b4b4b4" stroke-width="0.5"/>
<circle cx="863.8" cy="170.9" r="4.7" fill="url(#gsph)" stroke="#b4b4b4" stroke-width="0.5"/>
<circle cx="855.6" cy="168.7" r="4.7" fill="url(#gsph)" stroke="#b4b4b4" stroke-width="0.5"/>
<circle cx="847.2" cy="166.7" r="4.7" fill="url(#gsph)" stroke="#b4b4b4" stroke-width="0.5"/>
<circle cx="838.8" cy="164.9" r="4.7" fill="url(#gsph)" stroke="#b4b4b4" stroke-width="0.5"/>
<circle cx="830.4" cy="163.3" r="4.7" fill="url(#gsph)" stroke="#b4b4b4" stroke-width="0.5"/>
<circle cx="822.0" cy="162.0" r="4.7" fill="url(#gsph)" stroke="#b4b4b4" stroke-width="0.5"/>
<circle cx="813.7" cy="160.9" r="4.7" fill="url(#gsph)" stroke="#b4b4b4" stroke-width="0.5"/>
<circle cx="805.3" cy="160.0" r="4.7" fill="url(#gsph)" stroke="#b4b4b4" stroke-width="0.5"/>
<circle cx="796.9" cy="159.3" r="4.7" fill="url(#gsph)" stroke="#b4b4b4" stroke-width="0.5"/>
<circle cx="788.4" cy="158.9" r="4.7" fill="url(#gsph)" stroke="#b4b4b4" stroke-width="0.5"/>
<circle cx="779.9" cy="158.6" r="4.7" fill="url(#gsph)" stroke="#b4b4b4" stroke-width="0.5"/>
<circle cx="771.5" cy="158.6" r="4.7" fill="url(#gsph)" stroke="#b4b4b4" stroke-width="0.5"/>
<circle cx="763.0" cy="158.8" r="4.7" fill="url(#gsph)" stroke="#b4b4b4" stroke-width="0.5"/>
<circle cx="754.5" cy="159.2" r="4.7" fill="url(#gsph)" stroke="#b4b4b4" stroke-width="0.5"/>
<circle cx="746.1" cy="159.9" r="4.7" fill="url(#gsph)" stroke="#b4b4b4" stroke-width="0.5"/>
<circle cx="737.7" cy="160.7" r="4.7" fill="url(#gsph)" stroke="#b4b4b4" stroke-width="0.5"/>
<circle cx="729.3" cy="161.8" r="4.7" fill="url(#gsph)" stroke="#b4b4b4" stroke-width="0.5"/>
<circle cx="721.0" cy="163.1" r="4.7" fill="url(#gsph)" stroke="#b4b4b4" stroke-width="0.5"/>
<circle cx="712.5" cy="164.6" r="4.7" fill="url(#gsph)" stroke="#b4b4b4" stroke-width="0.5"/>
<circle cx="704.1" cy="166.4" r="4.7" fill="url(#gsph)" stroke="#b4b4b4" stroke-width="0.5"/>
<circle cx="695.8" cy="168.3" r="4.7" fill="url(#gsph)" stroke="#b4b4b4" stroke-width="0.5"/>
<circle cx="687.5" cy="170.5" r="4.7" fill="url(#gsph)" stroke="#b4b4b4" stroke-width="0.5"/>
<circle cx="679.4" cy="172.9" r="4.7" fill="url(#gsph)" stroke="#b4b4b4" stroke-width="0.5"/>
<circle cx="671.3" cy="175.6" r="4.7" fill="url(#gsph)" stroke="#b4b4b4" stroke-width="0.5"/>
<circle cx="663.4" cy="178.4" r="4.7" fill="url(#gsph)" stroke="#b4b4b4" stroke-width="0.5"/>
<circle cx="655.4" cy="181.5" r="4.7" fill="url(#gsph)" stroke="#b4b4b4" stroke-width="0.5"/>
<circle cx="647.5" cy="184.9" r="4.7" fill="url(#gsph)" stroke="#b4b4b4" stroke-width="0.5"/>
<circle cx="639.7" cy="188.4" r="4.7" fill="url(#gsph)" stroke="#b4b4b4" stroke-width="0.5"/>
<circle cx="632.2" cy="192.2" r="4.7" fill="url(#gsph)" stroke="#b4b4b4" stroke-width="0.5"/>
<circle cx="624.7" cy="196.2" r="4.7" fill="url(#gsph)" stroke="#b4b4b4" stroke-width="0.5"/>
<circle cx="617.3" cy="200.4" r="4.7" fill="url(#gsph)" stroke="#b4b4b4" stroke-width="0.5"/>
<circle cx="610.1" cy="204.9" r="4.7" fill="url(#gsph)" stroke="#b4b4b4" stroke-width="0.5"/>
<circle cx="603.0" cy="209.6" r="4.7" fill="url(#gsph)" stroke="#b4b4b4" stroke-width="0.5"/>
<circle cx="596.0" cy="214.6" r="4.7" fill="url(#gsph)" stroke="#b4b4b4" stroke-width="0.5"/>
<circle cx="589.2" cy="219.7" r="4.7" fill="url(#gsph)" stroke="#b4b4b4" stroke-width="0.5"/>
<circle cx="582.7" cy="225.1" r="4.7" fill="url(#gsph)" stroke="#b4b4b4" stroke-width="0.5"/>
<circle cx="576.3" cy="230.8" r="4.7" fill="url(#gsph)" stroke="#b4b4b4" stroke-width="0.5"/>
<circle cx="570.1" cy="236.7" r="4.7" fill="url(#gsph)" stroke="#b4b4b4" stroke-width="0.5"/>
<circle cx="564.1" cy="242.7" r="4.7" fill="url(#gsph)" stroke="#b4b4b4" stroke-width="0.5"/>
<circle cx="558.4" cy="249.1" r="4.7" fill="url(#gsph)" stroke="#b4b4b4" stroke-width="0.5"/>
<circle cx="552.9" cy="255.6" r="4.7" fill="url(#gsph)" stroke="#b4b4b4" stroke-width="0.5"/>
<circle cx="547.7" cy="262.3" r="4.7" fill="url(#gsph)" stroke="#b4b4b4" stroke-width="0.5"/>
<circle cx="542.8" cy="269.3" r="4.7" fill="url(#gsph)" stroke="#b4b4b4" stroke-width="0.5"/>
<circle cx="538.2" cy="276.4" r="4.7" fill="url(#gsph)" stroke="#b4b4b4" stroke-width="0.5"/>
<circle cx="533.9" cy="283.7" r="4.7" fill="url(#gsph)" stroke="#b4b4b4" stroke-width="0.5"/>
<circle cx="529.9" cy="291.2" r="4.7" fill="url(#gsph)" stroke="#b4b4b4" stroke-width="0.5"/>
<circle cx="526.2" cy="298.9" r="4.7" fill="url(#gsph)" stroke="#b4b4b4" stroke-width="0.5"/>
<circle cx="522.9" cy="306.7" r="4.7" fill="url(#gsph)" stroke="#b4b4b4" stroke-width="0.5"/>
<circle cx="919.1" cy="200.2" r="4.7" fill="url(#gsph)" stroke="#b4b4b4" stroke-width="0.5"/>
<circle cx="911.6" cy="196.3" r="4.7" fill="url(#gsph)" stroke="#b4b4b4" stroke-width="0.5"/>
<circle cx="904.0" cy="192.6" r="4.7" fill="url(#gsph)" stroke="#b4b4b4" stroke-width="0.5"/>
<circle cx="896.2" cy="189.2" r="4.7" fill="url(#gsph)" stroke="#b4b4b4" stroke-width="0.5"/>
<circle cx="888.2" cy="186.0" r="4.7" fill="url(#gsph)" stroke="#b4b4b4" stroke-width="0.5"/>
<circle cx="880.4" cy="183.0" r="4.7" fill="url(#gsph)" stroke="#b4b4b4" stroke-width="0.5"/>
<circle cx="872.4" cy="180.3" r="4.7" fill="url(#gsph)" stroke="#b4b4b4" stroke-width="0.5"/>
<circle cx="864.3" cy="177.8" r="4.7" fill="url(#gsph)" stroke="#b4b4b4" stroke-width="0.5"/>
<circle cx="856.1" cy="175.5" r="4.7" fill="url(#gsph)" stroke="#b4b4b4" stroke-width="0.5"/>
<circle cx="847.8" cy="173.4" r="4.7" fill="url(#gsph)" stroke="#b4b4b4" stroke-width="0.5"/>
<circle cx="839.4" cy="171.6" r="4.7" fill="url(#gsph)" stroke="#b4b4b4" stroke-width="0.5"/>
<circle cx="830.9" cy="170.0" r="4.7" fill="url(#gsph)" stroke="#b4b4b4" stroke-width="0.5"/>
<circle cx="822.6" cy="168.6" r="4.7" fill="url(#gsph)" stroke="#b4b4b4" stroke-width="0.5"/>
<circle cx="814.2" cy="167.5" r="4.7" fill="url(#gsph)" stroke="#b4b4b4" stroke-width="0.5"/>
<circle cx="805.8" cy="166.6" r="4.7" fill="url(#gsph)" stroke="#b4b4b4" stroke-width="0.5"/>
<circle cx="797.4" cy="165.9" r="4.7" fill="url(#gsph)" stroke="#b4b4b4" stroke-width="0.5"/>
<circle cx="788.9" cy="165.4" r="4.7" fill="url(#gsph)" stroke="#b4b4b4" stroke-width="0.5"/>
<circle cx="780.5" cy="165.1" r="4.7" fill="url(#gsph)" stroke="#b4b4b4" stroke-width="0.5"/>
<circle cx="772.0" cy="165.1" r="4.7" fill="url(#gsph)" stroke="#b4b4b4" stroke-width="0.5"/>
<circle cx="763.5" cy="165.3" r="4.7" fill="url(#gsph)" stroke="#b4b4b4" stroke-width="0.5"/>
<circle cx="755.0" cy="165.7" r="4.7" fill="url(#gsph)" stroke="#b4b4b4" stroke-width="0.5"/>
<circle cx="746.6" cy="166.3" r="4.7" fill="url(#gsph)" stroke="#b4b4b4" stroke-width="0.5"/>
<circle cx="738.2" cy="167.2" r="4.7" fill="url(#gsph)" stroke="#b4b4b4" stroke-width="0.5"/>
<circle cx="729.8" cy="168.3" r="4.7" fill="url(#gsph)" stroke="#b4b4b4" stroke-width="0.5"/>
<circle cx="721.5" cy="169.6" r="4.7" fill="url(#gsph)" stroke="#b4b4b4" stroke-width="0.5"/>
<circle cx="713.2" cy="171.1" r="4.7" fill="url(#gsph)" stroke="#b4b4b4" stroke-width="0.5"/>
<circle cx="704.8" cy="172.9" r="4.7" fill="url(#gsph)" stroke="#b4b4b4" stroke-width="0.5"/>
<circle cx="696.5" cy="174.9" r="4.7" fill="url(#gsph)" stroke="#b4b4b4" stroke-width="0.5"/>
<circle cx="688.2" cy="177.1" r="4.7" fill="url(#gsph)" stroke="#b4b4b4" stroke-width="0.5"/>
<circle cx="680.1" cy="179.5" r="4.7" fill="url(#gsph)" stroke="#b4b4b4" stroke-width="0.5"/>
<circle cx="672.1" cy="182.2" r="4.7" fill="url(#gsph)" stroke="#b4b4b4" stroke-width="0.5"/>
<circle cx="664.2" cy="185.0" r="4.7" fill="url(#gsph)" stroke="#b4b4b4" stroke-width="0.5"/>
<circle cx="656.2" cy="188.2" r="4.7" fill="url(#gsph)" stroke="#b4b4b4" stroke-width="0.5"/>
<circle cx="648.3" cy="191.6" r="4.7" fill="url(#gsph)" stroke="#b4b4b4" stroke-width="0.5"/>
<circle cx="640.6" cy="195.2" r="4.7" fill="url(#gsph)" stroke="#b4b4b4" stroke-width="0.5"/>
<circle cx="633.1" cy="199.0" r="4.7" fill="url(#gsph)" stroke="#b4b4b4" stroke-width="0.5"/>
<circle cx="625.6" cy="203.1" r="4.7" fill="url(#gsph)" stroke="#b4b4b4" stroke-width="0.5"/>
<circle cx="618.2" cy="207.4" r="4.7" fill="url(#gsph)" stroke="#b4b4b4" stroke-width="0.5"/>
<circle cx="611.1" cy="211.9" r="4.7" fill="url(#gsph)" stroke="#b4b4b4" stroke-width="0.5"/>
<circle cx="604.0" cy="216.8" r="4.7" fill="url(#gsph)" stroke="#b4b4b4" stroke-width="0.5"/>
<circle cx="597.1" cy="221.8" r="4.7" fill="url(#gsph)" stroke="#b4b4b4" stroke-width="0.5"/>
<circle cx="590.4" cy="227.1" r="4.7" fill="url(#gsph)" stroke="#b4b4b4" stroke-width="0.5"/>
<circle cx="583.9" cy="232.6" r="4.7" fill="url(#gsph)" stroke="#b4b4b4" stroke-width="0.5"/>
<circle cx="577.6" cy="238.4" r="4.7" fill="url(#gsph)" stroke="#b4b4b4" stroke-width="0.5"/>
<circle cx="571.6" cy="244.3" r="4.7" fill="url(#gsph)" stroke="#b4b4b4" stroke-width="0.5"/>
<circle cx="565.7" cy="250.5" r="4.7" fill="url(#gsph)" stroke="#b4b4b4" stroke-width="0.5"/>
<circle cx="560.2" cy="256.9" r="4.7" fill="url(#gsph)" stroke="#b4b4b4" stroke-width="0.5"/>
<circle cx="554.9" cy="263.5" r="4.7" fill="url(#gsph)" stroke="#b4b4b4" stroke-width="0.5"/>
<circle cx="549.9" cy="270.4" r="4.7" fill="url(#gsph)" stroke="#b4b4b4" stroke-width="0.5"/>
<circle cx="545.2" cy="277.4" r="4.7" fill="url(#gsph)" stroke="#b4b4b4" stroke-width="0.5"/>
<circle cx="540.7" cy="284.7" r="4.7" fill="url(#gsph)" stroke="#b4b4b4" stroke-width="0.5"/>
<circle cx="536.6" cy="292.2" r="4.7" fill="url(#gsph)" stroke="#b4b4b4" stroke-width="0.5"/>
<circle cx="532.9" cy="299.8" r="4.7" fill="url(#gsph)" stroke="#b4b4b4" stroke-width="0.5"/>
<circle cx="529.5" cy="307.7" r="4.7" fill="url(#gsph)" stroke="#b4b4b4" stroke-width="0.5"/>
<circle cx="919.0" cy="207.5" r="4.7" fill="url(#gsph)" stroke="#b4b4b4" stroke-width="0.5"/>
<circle cx="911.4" cy="203.4" r="4.7" fill="url(#gsph)" stroke="#b4b4b4" stroke-width="0.5"/>
<circle cx="903.8" cy="199.7" r="4.7" fill="url(#gsph)" stroke="#b4b4b4" stroke-width="0.5"/>
<circle cx="896.1" cy="196.2" r="4.7" fill="url(#gsph)" stroke="#b4b4b4" stroke-width="0.5"/>
<circle cx="888.2" cy="192.9" r="4.7" fill="url(#gsph)" stroke="#b4b4b4" stroke-width="0.5"/>
<circle cx="880.2" cy="189.9" r="4.7" fill="url(#gsph)" stroke="#b4b4b4" stroke-width="0.5"/>
<circle cx="872.3" cy="187.1" r="4.7" fill="url(#gsph)" stroke="#b4b4b4" stroke-width="0.5"/>
<circle cx="864.2" cy="184.5" r="4.7" fill="url(#gsph)" stroke="#b4b4b4" stroke-width="0.5"/>
<circle cx="856.0" cy="182.2" r="4.7" fill="url(#gsph)" stroke="#b4b4b4" stroke-width="0.5"/>
<circle cx="847.7" cy="180.1" r="4.7" fill="url(#gsph)" stroke="#b4b4b4" stroke-width="0.5"/>
<circle cx="839.4" cy="178.2" r="4.7" fill="url(#gsph)" stroke="#b4b4b4" stroke-width="0.5"/>
<circle cx="830.9" cy="176.6" r="4.7" fill="url(#gsph)" stroke="#b4b4b4" stroke-width="0.5"/>
<circle cx="822.6" cy="175.2" r="4.7" fill="url(#gsph)" stroke="#b4b4b4" stroke-width="0.5"/>
<circle cx="814.3" cy="174.0" r="4.7" fill="url(#gsph)" stroke="#b4b4b4" stroke-width="0.5"/>
<circle cx="805.9" cy="173.1" r="4.7" fill="url(#gsph)" stroke="#b4b4b4" stroke-width="0.5"/>
<circle cx="797.5" cy="172.4" r="4.7" fill="url(#gsph)" stroke="#b4b4b4" stroke-width="0.5"/>
<circle cx="789.0" cy="171.9" r="4.7" fill="url(#gsph)" stroke="#b4b4b4" stroke-width="0.5"/>
<circle cx="780.5" cy="171.6" r="4.7" fill="url(#gsph)" stroke="#b4b4b4" stroke-width="0.5"/>
<circle cx="772.1" cy="171.6" r="4.7" fill="url(#gsph)" stroke="#b4b4b4" stroke-width="0.5"/>
<circle cx="763.6" cy="171.8" r="4.7" fill="url(#gsph)" stroke="#b4b4b4" stroke-width="0.5"/>
<circle cx="755.1" cy="172.2" r="4.7" fill="url(#gsph)" stroke="#b4b4b4" stroke-width="0.5"/>
<circle cx="746.7" cy="172.9" r="4.7" fill="url(#gsph)" stroke="#b4b4b4" stroke-width="0.5"/>
<circle cx="738.3" cy="173.7" r="4.7" fill="url(#gsph)" stroke="#b4b4b4" stroke-width="0.5"/>
<circle cx="729.9" cy="174.8" r="4.7" fill="url(#gsph)" stroke="#b4b4b4" stroke-width="0.5"/>
<circle cx="721.6" cy="176.1" r="4.7" fill="url(#gsph)" stroke="#b4b4b4" stroke-width="0.5"/>
<circle cx="713.1" cy="177.7" r="4.7" fill="url(#gsph)" stroke="#b4b4b4" stroke-width="0.5"/>
<circle cx="704.7" cy="179.5" r="4.7" fill="url(#gsph)" stroke="#b4b4b4" stroke-width="0.5"/>
<circle cx="696.4" cy="181.6" r="4.7" fill="url(#gsph)" stroke="#b4b4b4" stroke-width="0.5"/>
<circle cx="688.2" cy="183.8" r="4.7" fill="url(#gsph)" stroke="#b4b4b4" stroke-width="0.5"/>
<circle cx="680.1" cy="186.3" r="4.7" fill="url(#gsph)" stroke="#b4b4b4" stroke-width="0.5"/>
<circle cx="672.1" cy="189.0" r="4.7" fill="url(#gsph)" stroke="#b4b4b4" stroke-width="0.5"/>
<circle cx="664.1" cy="192.0" r="4.7" fill="url(#gsph)" stroke="#b4b4b4" stroke-width="0.5"/>
<circle cx="656.2" cy="195.2" r="4.7" fill="url(#gsph)" stroke="#b4b4b4" stroke-width="0.5"/>
<circle cx="648.4" cy="198.7" r="4.7" fill="url(#gsph)" stroke="#b4b4b4" stroke-width="0.5"/>
<circle cx="640.8" cy="202.3" r="4.7" fill="url(#gsph)" stroke="#b4b4b4" stroke-width="0.5"/>
<circle cx="633.2" cy="206.3" r="4.7" fill="url(#gsph)" stroke="#b4b4b4" stroke-width="0.5"/>
<circle cx="625.7" cy="210.5" r="4.7" fill="url(#gsph)" stroke="#b4b4b4" stroke-width="0.5"/>
<circle cx="618.5" cy="214.8" r="4.7" fill="url(#gsph)" stroke="#b4b4b4" stroke-width="0.5"/>
<circle cx="611.3" cy="219.6" r="4.7" fill="url(#gsph)" stroke="#b4b4b4" stroke-width="0.5"/>
<circle cx="604.4" cy="224.5" r="4.7" fill="url(#gsph)" stroke="#b4b4b4" stroke-width="0.5"/>
<circle cx="597.6" cy="229.6" r="4.7" fill="url(#gsph)" stroke="#b4b4b4" stroke-width="0.5"/>
<circle cx="591.0" cy="235.0" r="4.7" fill="url(#gsph)" stroke="#b4b4b4" stroke-width="0.5"/>
<circle cx="584.6" cy="240.6" r="4.7" fill="url(#gsph)" stroke="#b4b4b4" stroke-width="0.5"/>
<circle cx="578.5" cy="246.4" r="4.7" fill="url(#gsph)" stroke="#b4b4b4" stroke-width="0.5"/>
<circle cx="572.6" cy="252.5" r="4.7" fill="url(#gsph)" stroke="#b4b4b4" stroke-width="0.5"/>
<circle cx="567.0" cy="258.8" r="4.7" fill="url(#gsph)" stroke="#b4b4b4" stroke-width="0.5"/>
<circle cx="561.6" cy="265.5" r="4.7" fill="url(#gsph)" stroke="#b4b4b4" stroke-width="0.5"/>
<circle cx="556.5" cy="272.2" r="4.7" fill="url(#gsph)" stroke="#b4b4b4" stroke-width="0.5"/>
<circle cx="551.7" cy="279.2" r="4.7" fill="url(#gsph)" stroke="#b4b4b4" stroke-width="0.5"/>
<circle cx="547.2" cy="286.4" r="4.7" fill="url(#gsph)" stroke="#b4b4b4" stroke-width="0.5"/>
<circle cx="543.1" cy="293.8" r="4.7" fill="url(#gsph)" stroke="#b4b4b4" stroke-width="0.5"/>
<circle cx="539.3" cy="301.4" r="4.7" fill="url(#gsph)" stroke="#b4b4b4" stroke-width="0.5"/>
<circle cx="535.9" cy="309.2" r="4.7" fill="url(#gsph)" stroke="#b4b4b4" stroke-width="0.5"/>
<circle cx="815.4" cy="191.3" r="2.9" fill="url(#tail)" stroke="#aaa650" stroke-width="0.6"/>
<circle cx="814.7" cy="196.4" r="2.9" fill="url(#tail)" stroke="#aaa650" stroke-width="0.6"/>
<ellipse cx="816.2" cy="185.2" rx="5.9" ry="4.8" fill="url(#bhead)" stroke="#12296e" stroke-width="0.5" transform="rotate(7.7 816.2 185.2)"/>
<ellipse cx="813.9" cy="202.5" rx="5.9" ry="4.8" fill="url(#bhead)" stroke="#12296e" stroke-width="0.5" transform="rotate(7.7 813.9 202.5)"/>
<circle cx="803.0" cy="189.9" r="2.9" fill="url(#tail)" stroke="#aaa650" stroke-width="0.6"/>
<circle cx="802.5" cy="195.0" r="2.9" fill="url(#tail)" stroke="#aaa650" stroke-width="0.6"/>
<ellipse cx="803.5" cy="183.7" rx="5.9" ry="4.8" fill="url(#bhead)" stroke="#12296e" stroke-width="0.5" transform="rotate(5.3 803.5 183.7)"/>
<ellipse cx="801.9" cy="201.2" rx="5.9" ry="4.8" fill="url(#bhead)" stroke="#12296e" stroke-width="0.5" transform="rotate(5.3 801.9 201.2)"/>
<circle cx="790.4" cy="189.0" r="2.9" fill="url(#tail)" stroke="#aaa650" stroke-width="0.6"/>
<circle cx="790.2" cy="194.1" r="2.9" fill="url(#tail)" stroke="#aaa650" stroke-width="0.6"/>
<ellipse cx="790.8" cy="182.8" rx="5.9" ry="4.8" fill="url(#bhead)" stroke="#12296e" stroke-width="0.5" transform="rotate(2.9 790.8 182.8)"/>
<ellipse cx="789.9" cy="200.3" rx="5.9" ry="4.8" fill="url(#bhead)" stroke="#12296e" stroke-width="0.5" transform="rotate(2.9 789.9 200.3)"/>
<circle cx="778.0" cy="188.6" r="2.9" fill="url(#tail)" stroke="#aaa650" stroke-width="0.6"/>
<circle cx="778.0" cy="193.7" r="2.9" fill="url(#tail)" stroke="#aaa650" stroke-width="0.6"/>
<ellipse cx="778.1" cy="182.4" rx="5.9" ry="4.8" fill="url(#bhead)" stroke="#12296e" stroke-width="0.5" transform="rotate(0.6 778.1 182.4)"/>
<ellipse cx="777.9" cy="199.9" rx="5.9" ry="4.8" fill="url(#bhead)" stroke="#12296e" stroke-width="0.5" transform="rotate(0.6 777.9 199.9)"/>
<circle cx="765.6" cy="188.7" r="2.9" fill="url(#tail)" stroke="#aaa650" stroke-width="0.6"/>
<circle cx="765.7" cy="193.8" r="2.9" fill="url(#tail)" stroke="#aaa650" stroke-width="0.6"/>
<ellipse cx="765.4" cy="182.6" rx="5.9" ry="4.8" fill="url(#bhead)" stroke="#12296e" stroke-width="0.5" transform="rotate(-1.8 765.4 182.6)"/>
<ellipse cx="765.9" cy="200.0" rx="5.9" ry="4.8" fill="url(#bhead)" stroke="#12296e" stroke-width="0.5" transform="rotate(-1.8 765.9 200.0)"/>
<circle cx="753.0" cy="189.4" r="2.9" fill="url(#tail)" stroke="#aaa650" stroke-width="0.6"/>
<circle cx="753.4" cy="194.5" r="2.9" fill="url(#tail)" stroke="#aaa650" stroke-width="0.6"/>
<ellipse cx="752.6" cy="183.2" rx="5.9" ry="4.8" fill="url(#bhead)" stroke="#12296e" stroke-width="0.5" transform="rotate(-4.2 752.6 183.2)"/>
<ellipse cx="753.8" cy="200.7" rx="5.9" ry="4.8" fill="url(#bhead)" stroke="#12296e" stroke-width="0.5" transform="rotate(-4.2 753.8 200.7)"/>
<circle cx="740.5" cy="190.6" r="2.9" fill="url(#tail)" stroke="#aaa650" stroke-width="0.6"/>
<circle cx="741.1" cy="195.6" r="2.9" fill="url(#tail)" stroke="#aaa650" stroke-width="0.6"/>
<ellipse cx="739.8" cy="184.4" rx="5.9" ry="4.8" fill="url(#bhead)" stroke="#12296e" stroke-width="0.5" transform="rotate(-6.6 739.8 184.4)"/>
<ellipse cx="741.8" cy="201.8" rx="5.9" ry="4.8" fill="url(#bhead)" stroke="#12296e" stroke-width="0.5" transform="rotate(-6.6 741.8 201.8)"/>
<circle cx="728.2" cy="192.3" r="2.9" fill="url(#tail)" stroke="#aaa650" stroke-width="0.6"/>
<circle cx="729.0" cy="197.3" r="2.9" fill="url(#tail)" stroke="#aaa650" stroke-width="0.6"/>
<ellipse cx="727.2" cy="186.2" rx="5.9" ry="4.8" fill="url(#bhead)" stroke="#12296e" stroke-width="0.5" transform="rotate(-9.0 727.2 186.2)"/>
<ellipse cx="729.9" cy="203.4" rx="5.9" ry="4.8" fill="url(#bhead)" stroke="#12296e" stroke-width="0.5" transform="rotate(-9.0 729.9 203.4)"/>
<circle cx="715.9" cy="194.5" r="2.9" fill="url(#tail)" stroke="#aaa650" stroke-width="0.6"/>
<circle cx="716.9" cy="199.5" r="2.9" fill="url(#tail)" stroke="#aaa650" stroke-width="0.6"/>
<ellipse cx="714.7" cy="188.4" rx="5.9" ry="4.8" fill="url(#bhead)" stroke="#12296e" stroke-width="0.5" transform="rotate(-11.4 714.7 188.4)"/>
<ellipse cx="718.2" cy="205.6" rx="5.9" ry="4.8" fill="url(#bhead)" stroke="#12296e" stroke-width="0.5" transform="rotate(-11.4 718.2 205.6)"/>
<circle cx="703.7" cy="197.2" r="2.9" fill="url(#tail)" stroke="#aaa650" stroke-width="0.6"/>
<circle cx="705.0" cy="202.2" r="2.9" fill="url(#tail)" stroke="#aaa650" stroke-width="0.6"/>
<ellipse cx="702.2" cy="191.2" rx="5.9" ry="4.8" fill="url(#bhead)" stroke="#12296e" stroke-width="0.5" transform="rotate(-13.9 702.2 191.2)"/>
<ellipse cx="706.5" cy="208.2" rx="5.9" ry="4.8" fill="url(#bhead)" stroke="#12296e" stroke-width="0.5" transform="rotate(-13.9 706.5 208.2)"/>
<circle cx="691.6" cy="200.5" r="2.9" fill="url(#tail)" stroke="#aaa650" stroke-width="0.6"/>
<circle cx="693.1" cy="205.4" r="2.9" fill="url(#tail)" stroke="#aaa650" stroke-width="0.6"/>
<ellipse cx="689.9" cy="194.6" rx="5.9" ry="4.8" fill="url(#bhead)" stroke="#12296e" stroke-width="0.5" transform="rotate(-16.5 689.9 194.6)"/>
<ellipse cx="694.9" cy="211.3" rx="5.9" ry="4.8" fill="url(#bhead)" stroke="#12296e" stroke-width="0.5" transform="rotate(-16.5 694.9 211.3)"/>
<circle cx="679.8" cy="204.3" r="2.9" fill="url(#tail)" stroke="#aaa650" stroke-width="0.6"/>
<circle cx="681.5" cy="209.1" r="2.9" fill="url(#tail)" stroke="#aaa650" stroke-width="0.6"/>
<ellipse cx="677.8" cy="198.4" rx="5.9" ry="4.8" fill="url(#bhead)" stroke="#12296e" stroke-width="0.5" transform="rotate(-19.1 677.8 198.4)"/>
<ellipse cx="683.5" cy="215.0" rx="5.9" ry="4.8" fill="url(#bhead)" stroke="#12296e" stroke-width="0.5" transform="rotate(-19.1 683.5 215.0)"/>
<circle cx="668.2" cy="208.6" r="2.9" fill="url(#tail)" stroke="#aaa650" stroke-width="0.6"/>
<circle cx="670.0" cy="213.4" r="2.9" fill="url(#tail)" stroke="#aaa650" stroke-width="0.6"/>
<ellipse cx="665.9" cy="202.9" rx="5.9" ry="4.8" fill="url(#bhead)" stroke="#12296e" stroke-width="0.5" transform="rotate(-21.7 665.9 202.9)"/>
<ellipse cx="672.3" cy="219.1" rx="5.9" ry="4.8" fill="url(#bhead)" stroke="#12296e" stroke-width="0.5" transform="rotate(-21.7 672.3 219.1)"/>
<circle cx="656.7" cy="213.5" r="2.9" fill="url(#tail)" stroke="#aaa650" stroke-width="0.6"/>
<circle cx="658.8" cy="218.1" r="2.9" fill="url(#tail)" stroke="#aaa650" stroke-width="0.6"/>
<ellipse cx="654.2" cy="207.9" rx="5.9" ry="4.8" fill="url(#bhead)" stroke="#12296e" stroke-width="0.5" transform="rotate(-24.4 654.2 207.9)"/>
<ellipse cx="661.4" cy="223.8" rx="5.9" ry="4.8" fill="url(#bhead)" stroke="#12296e" stroke-width="0.5" transform="rotate(-24.4 661.4 223.8)"/>
<circle cx="645.5" cy="218.9" r="2.9" fill="url(#tail)" stroke="#aaa650" stroke-width="0.6"/>
<circle cx="647.9" cy="223.4" r="2.9" fill="url(#tail)" stroke="#aaa650" stroke-width="0.6"/>
<ellipse cx="642.7" cy="213.4" rx="5.9" ry="4.8" fill="url(#bhead)" stroke="#12296e" stroke-width="0.5" transform="rotate(-27.2 642.7 213.4)"/>
<ellipse cx="650.7" cy="229.0" rx="5.9" ry="4.8" fill="url(#bhead)" stroke="#12296e" stroke-width="0.5" transform="rotate(-27.2 650.7 229.0)"/>
<circle cx="634.6" cy="224.9" r="2.9" fill="url(#tail)" stroke="#aaa650" stroke-width="0.6"/>
<circle cx="637.2" cy="229.3" r="2.9" fill="url(#tail)" stroke="#aaa650" stroke-width="0.6"/>
<ellipse cx="631.5" cy="219.5" rx="5.9" ry="4.8" fill="url(#bhead)" stroke="#12296e" stroke-width="0.5" transform="rotate(-30.2 631.5 219.5)"/>
<ellipse cx="640.3" cy="234.7" rx="5.9" ry="4.8" fill="url(#bhead)" stroke="#12296e" stroke-width="0.5" transform="rotate(-30.2 640.3 234.7)"/>
<circle cx="624.0" cy="231.4" r="2.9" fill="url(#tail)" stroke="#aaa650" stroke-width="0.6"/>
<circle cx="626.8" cy="235.7" r="2.9" fill="url(#tail)" stroke="#aaa650" stroke-width="0.6"/>
<ellipse cx="620.6" cy="226.2" rx="5.9" ry="4.8" fill="url(#bhead)" stroke="#12296e" stroke-width="0.5" transform="rotate(-33.2 620.6 226.2)"/>
<ellipse cx="630.2" cy="240.9" rx="5.9" ry="4.8" fill="url(#bhead)" stroke="#12296e" stroke-width="0.5" transform="rotate(-33.2 630.2 240.9)"/>
<circle cx="613.9" cy="238.5" r="2.9" fill="url(#tail)" stroke="#aaa650" stroke-width="0.6"/>
<circle cx="616.9" cy="242.6" r="2.9" fill="url(#tail)" stroke="#aaa650" stroke-width="0.6"/>
<ellipse cx="610.2" cy="233.5" rx="5.9" ry="4.8" fill="url(#bhead)" stroke="#12296e" stroke-width="0.5" transform="rotate(-36.3 610.2 233.5)"/>
<ellipse cx="620.5" cy="247.6" rx="5.9" ry="4.8" fill="url(#bhead)" stroke="#12296e" stroke-width="0.5" transform="rotate(-36.3 620.5 247.6)"/>
<circle cx="604.1" cy="246.1" r="2.9" fill="url(#tail)" stroke="#aaa650" stroke-width="0.6"/>
<circle cx="607.3" cy="250.0" r="2.9" fill="url(#tail)" stroke="#aaa650" stroke-width="0.6"/>
<ellipse cx="600.1" cy="241.3" rx="5.9" ry="4.8" fill="url(#bhead)" stroke="#12296e" stroke-width="0.5" transform="rotate(-39.6 600.1 241.3)"/>
<ellipse cx="611.3" cy="254.8" rx="5.9" ry="4.8" fill="url(#bhead)" stroke="#12296e" stroke-width="0.5" transform="rotate(-39.6 611.3 254.8)"/>
<circle cx="594.7" cy="254.3" r="2.9" fill="url(#tail)" stroke="#aaa650" stroke-width="0.6"/>
<circle cx="598.2" cy="258.0" r="2.9" fill="url(#tail)" stroke="#aaa650" stroke-width="0.6"/>
<ellipse cx="590.5" cy="249.8" rx="5.9" ry="4.8" fill="url(#bhead)" stroke="#12296e" stroke-width="0.5" transform="rotate(-43.1 590.5 249.8)"/>
<ellipse cx="602.5" cy="262.6" rx="5.9" ry="4.8" fill="url(#bhead)" stroke="#12296e" stroke-width="0.5" transform="rotate(-43.1 602.5 262.6)"/>
<circle cx="586.0" cy="263.0" r="2.9" fill="url(#tail)" stroke="#aaa650" stroke-width="0.6"/>
<circle cx="589.7" cy="266.5" r="2.9" fill="url(#tail)" stroke="#aaa650" stroke-width="0.6"/>
<ellipse cx="581.5" cy="258.8" rx="5.9" ry="4.8" fill="url(#bhead)" stroke="#12296e" stroke-width="0.5" transform="rotate(-46.6 581.5 258.8)"/>
<ellipse cx="594.2" cy="270.8" rx="5.9" ry="4.8" fill="url(#bhead)" stroke="#12296e" stroke-width="0.5" transform="rotate(-46.6 594.2 270.8)"/>
<circle cx="577.8" cy="272.3" r="2.9" fill="url(#tail)" stroke="#aaa650" stroke-width="0.6"/>
<circle cx="581.8" cy="275.5" r="2.9" fill="url(#tail)" stroke="#aaa650" stroke-width="0.6"/>
<ellipse cx="573.1" cy="268.3" rx="5.9" ry="4.8" fill="url(#bhead)" stroke="#12296e" stroke-width="0.5" transform="rotate(-50.4 573.1 268.3)"/>
<ellipse cx="586.5" cy="279.5" rx="5.9" ry="4.8" fill="url(#bhead)" stroke="#12296e" stroke-width="0.5" transform="rotate(-50.4 586.5 279.5)"/>
<circle cx="570.3" cy="282.0" r="2.9" fill="url(#tail)" stroke="#aaa650" stroke-width="0.6"/>
<circle cx="574.4" cy="285.0" r="2.9" fill="url(#tail)" stroke="#aaa650" stroke-width="0.6"/>
<ellipse cx="565.3" cy="278.4" rx="5.9" ry="4.8" fill="url(#bhead)" stroke="#12296e" stroke-width="0.5" transform="rotate(-54.3 565.3 278.4)"/>
<ellipse cx="579.5" cy="288.6" rx="5.9" ry="4.8" fill="url(#bhead)" stroke="#12296e" stroke-width="0.5" transform="rotate(-54.3 579.5 288.6)"/>
<circle cx="563.5" cy="292.3" r="2.9" fill="url(#tail)" stroke="#aaa650" stroke-width="0.6"/>
<circle cx="567.8" cy="295.0" r="2.9" fill="url(#tail)" stroke="#aaa650" stroke-width="0.6"/>
<ellipse cx="558.2" cy="289.0" rx="5.9" ry="4.8" fill="url(#bhead)" stroke="#12296e" stroke-width="0.5" transform="rotate(-58.4 558.2 289.0)"/>
<ellipse cx="573.1" cy="298.2" rx="5.9" ry="4.8" fill="url(#bhead)" stroke="#12296e" stroke-width="0.5" transform="rotate(-58.4 573.1 298.2)"/>
<circle cx="557.5" cy="303.0" r="2.9" fill="url(#tail)" stroke="#aaa650" stroke-width="0.6"/>
<circle cx="562.0" cy="305.3" r="2.9" fill="url(#tail)" stroke="#aaa650" stroke-width="0.6"/>
<ellipse cx="551.9" cy="300.1" rx="5.9" ry="4.8" fill="url(#bhead)" stroke="#12296e" stroke-width="0.5" transform="rotate(-62.7 551.9 300.1)"/>
<ellipse cx="567.5" cy="308.1" rx="5.9" ry="4.8" fill="url(#bhead)" stroke="#12296e" stroke-width="0.5" transform="rotate(-62.7 567.5 308.1)"/>
<circle cx="552.3" cy="314.1" r="2.9" fill="url(#tail)" stroke="#aaa650" stroke-width="0.6"/>
<circle cx="557.0" cy="316.0" r="2.9" fill="url(#tail)" stroke="#aaa650" stroke-width="0.6"/>
<ellipse cx="546.5" cy="311.7" rx="5.9" ry="4.8" fill="url(#bhead)" stroke="#12296e" stroke-width="0.5" transform="rotate(-67.2 546.5 311.7)"/>
<ellipse cx="562.7" cy="318.4" rx="5.9" ry="4.8" fill="url(#bhead)" stroke="#12296e" stroke-width="0.5" transform="rotate(-67.2 562.7 318.4)"/>
<circle cx="547.9" cy="325.6" r="2.9" fill="url(#tail)" stroke="#aaa650" stroke-width="0.6"/>
<circle cx="552.8" cy="327.2" r="2.9" fill="url(#tail)" stroke="#aaa650" stroke-width="0.6"/>
<ellipse cx="542.1" cy="323.6" rx="5.9" ry="4.8" fill="url(#bhead)" stroke="#12296e" stroke-width="0.5" transform="rotate(-71.8 542.1 323.6)"/>
<ellipse cx="558.7" cy="329.1" rx="5.9" ry="4.8" fill="url(#bhead)" stroke="#12296e" stroke-width="0.5" transform="rotate(-71.8 558.7 329.1)"/>
<circle cx="544.6" cy="337.4" r="2.9" fill="url(#tail)" stroke="#aaa650" stroke-width="0.6"/>
<circle cx="549.6" cy="338.5" r="2.9" fill="url(#tail)" stroke="#aaa650" stroke-width="0.6"/>
<ellipse cx="538.6" cy="335.9" rx="5.9" ry="4.8" fill="url(#bhead)" stroke="#12296e" stroke-width="0.5" transform="rotate(-76.6 538.6 335.9)"/>
<ellipse cx="555.6" cy="340.0" rx="5.9" ry="4.8" fill="url(#bhead)" stroke="#12296e" stroke-width="0.5" transform="rotate(-76.6 555.6 340.0)"/>
<circle cx="542.3" cy="349.4" r="2.9" fill="url(#tail)" stroke="#aaa650" stroke-width="0.6"/>
<circle cx="547.3" cy="350.1" r="2.9" fill="url(#tail)" stroke="#aaa650" stroke-width="0.6"/>
<ellipse cx="536.1" cy="348.5" rx="5.9" ry="4.8" fill="url(#bhead)" stroke="#12296e" stroke-width="0.5" transform="rotate(-81.5 536.1 348.5)"/>
<ellipse cx="553.4" cy="351.1" rx="5.9" ry="4.8" fill="url(#bhead)" stroke="#12296e" stroke-width="0.5" transform="rotate(-81.5 553.4 351.1)"/>
<circle cx="541.0" cy="361.5" r="2.9" fill="url(#tail)" stroke="#aaa650" stroke-width="0.6"/>
<circle cx="546.1" cy="361.8" r="2.9" fill="url(#tail)" stroke="#aaa650" stroke-width="0.6"/>
<ellipse cx="534.8" cy="361.1" rx="5.9" ry="4.8" fill="url(#bhead)" stroke="#12296e" stroke-width="0.5" transform="rotate(-86.4 534.8 361.1)"/>
<ellipse cx="552.3" cy="362.2" rx="5.9" ry="4.8" fill="url(#bhead)" stroke="#12296e" stroke-width="0.5" transform="rotate(-86.4 552.3 362.2)"/>
<circle cx="540.7" cy="373.7" r="2.9" fill="url(#tail)" stroke="#aaa650" stroke-width="0.6"/>
<circle cx="545.8" cy="373.6" r="2.9" fill="url(#tail)" stroke="#aaa650" stroke-width="0.6"/>
<ellipse cx="534.5" cy="373.9" rx="5.9" ry="4.8" fill="url(#bhead)" stroke="#12296e" stroke-width="0.5" transform="rotate(268.6 534.5 373.9)"/>
<ellipse cx="552.0" cy="373.5" rx="5.9" ry="4.8" fill="url(#bhead)" stroke="#12296e" stroke-width="0.5" transform="rotate(268.6 552.0 373.5)"/>
<circle cx="541.6" cy="386.0" r="2.9" fill="url(#tail)" stroke="#aaa650" stroke-width="0.6"/>
<circle cx="546.6" cy="385.4" r="2.9" fill="url(#tail)" stroke="#aaa650" stroke-width="0.6"/>
<ellipse cx="535.4" cy="386.6" rx="5.9" ry="4.8" fill="url(#bhead)" stroke="#12296e" stroke-width="0.5" transform="rotate(263.7 535.4 386.6)"/>
<ellipse cx="552.8" cy="384.7" rx="5.9" ry="4.8" fill="url(#bhead)" stroke="#12296e" stroke-width="0.5" transform="rotate(263.7 552.8 384.7)"/>
<circle cx="543.4" cy="398.0" r="2.9" fill="url(#tail)" stroke="#aaa650" stroke-width="0.6"/>
<circle cx="548.4" cy="397.0" r="2.9" fill="url(#tail)" stroke="#aaa650" stroke-width="0.6"/>
<ellipse cx="537.3" cy="399.2" rx="5.9" ry="4.8" fill="url(#bhead)" stroke="#12296e" stroke-width="0.5" transform="rotate(258.8 537.3 399.2)"/>
<ellipse cx="554.5" cy="395.8" rx="5.9" ry="4.8" fill="url(#bhead)" stroke="#12296e" stroke-width="0.5" transform="rotate(258.8 554.5 395.8)"/>
<circle cx="546.3" cy="409.9" r="2.9" fill="url(#tail)" stroke="#aaa650" stroke-width="0.6"/>
<circle cx="551.2" cy="408.5" r="2.9" fill="url(#tail)" stroke="#aaa650" stroke-width="0.6"/>
<ellipse cx="540.3" cy="411.6" rx="5.9" ry="4.8" fill="url(#bhead)" stroke="#12296e" stroke-width="0.5" transform="rotate(254.0 540.3 411.6)"/>
<ellipse cx="557.2" cy="406.8" rx="5.9" ry="4.8" fill="url(#bhead)" stroke="#12296e" stroke-width="0.5" transform="rotate(254.0 557.2 406.8)"/>
<circle cx="550.2" cy="421.5" r="2.9" fill="url(#tail)" stroke="#aaa650" stroke-width="0.6"/>
<circle cx="554.9" cy="419.7" r="2.9" fill="url(#tail)" stroke="#aaa650" stroke-width="0.6"/>
<ellipse cx="544.4" cy="423.7" rx="5.9" ry="4.8" fill="url(#bhead)" stroke="#12296e" stroke-width="0.5" transform="rotate(249.3 544.4 423.7)"/>
<ellipse cx="560.7" cy="417.5" rx="5.9" ry="4.8" fill="url(#bhead)" stroke="#12296e" stroke-width="0.5" transform="rotate(249.3 560.7 417.5)"/>
</g>
<text x="613.4" y="214.7" font-size="10.8" text-anchor="middle" fill="#1a1a1a" style="stroke:#1a1a1a;stroke-width:0.35px">CaP</text>
<line x1="613.1" y1="217.0" x2="613.1" y2="285.5" stroke="#b83228" stroke-width="1.7" />
<line x1="603.7" y1="285.5" x2="622.7" y2="285.5" stroke="#c0392b" stroke-width="2.0" />
<rect x="590.5" y="289.3" width="44.3" height="17.5" rx="3.2" fill="url(#bbox)" stroke="#86acd6" stroke-width="0.8"/>
<text x="612.6" y="302.6" font-size="11.2" text-anchor="middle" fill="#1a1a1a" style="stroke:#1a1a1a;stroke-width:0.35px">PI3k</text>
<rect x="590.5" y="320.8" width="44.3" height="16.8" rx="3.2" fill="url(#bbox)" stroke="#86acd6" stroke-width="0.8"/>
<text x="612.6" y="333.0" font-size="11.2" text-anchor="middle" fill="#1a1a1a" style="stroke:#1a1a1a;stroke-width:0.35px">Akt</text>
<rect x="590.5" y="351.3" width="44.3" height="17.0" rx="3.2" fill="url(#bbox)" stroke="#86acd6" stroke-width="0.8"/>
<text x="612.6" y="364.1" font-size="11.2" text-anchor="middle" fill="#1a1a1a" style="stroke:#1a1a1a;stroke-width:0.35px">mTOR</text>
<line x1="612.7" y1="307.0" x2="612.7" y2="318.0" stroke="#6e9238" stroke-width="2.6" />
<polygon points="610.5,317.2 614.9,317.2 612.7,320.5" fill="#6e9238"/>
<line x1="612.7" y1="338.0" x2="612.7" y2="348.5" stroke="#6e9238" stroke-width="2.6" />
<polygon points="610.5,347.7 614.9,347.7 612.7,351.0" fill="#6e9238"/>
<line x1="612.0" y1="369.5" x2="612.0" y2="375.5" stroke="#111" stroke-width="1.1" />
<polygon points="610.3,376.1 613.7,376.1 612.0,378.6" fill="#111"/>
<text x="618.6" y="387.6" font-size="11.3" text-anchor="middle" fill="#1a1a1a" style="stroke:#1a1a1a;stroke-width:0.35px">Protein synthesis</text>
<polyline points="635.0,329.5 656.8,329.5 656.8,266.8 675.5,266.8" fill="none" stroke="#6e9238" stroke-width="2.5" stroke-linejoin="round" />
<polygon points="675.8,264.1 675.8,269.5 679.8,266.8" fill="#6e9238"/>
<line x1="705.5" y1="293.3" x2="705.5" y2="314.5" stroke="#6e9238" stroke-width="2.5" />
<polygon points="703.0,314.8 708.0,314.8 705.5,318.5" fill="#6e9238"/>
<rect x="682.5" y="259.6" width="43.6" height="16.3" rx="3.2" fill="url(#rbox)" stroke="#c83444" stroke-width="0.7"/>
<text x="703.9" y="271.6" font-size="11.1" text-anchor="middle" fill="#3a1018" style="stroke:#3a1018;stroke-width:0.3px">PFKP</text>
<rect x="682.5" y="322.5" width="43.6" height="16.3" rx="3.2" fill="url(#rbox)" stroke="#c83444" stroke-width="0.7"/>
<text x="703.9" y="334.3" font-size="11.1" text-anchor="middle" fill="#3a1018" style="stroke:#3a1018;stroke-width:0.3px">PKM2</text>
<text x="746.0" y="222.7" font-size="11.3" text-anchor="middle" fill="#1a1a1a" style="stroke:#1a1a1a;stroke-width:0.35px">Glucose</text>
<text x="746.0" y="254.6" font-size="11.3" text-anchor="middle" fill="#1a1a1a" style="stroke:#1a1a1a;stroke-width:0.35px">Fructose-6-P</text>
<text x="746.0" y="288.1" font-size="11.3" text-anchor="middle" fill="#1a1a1a" style="stroke:#1a1a1a;stroke-width:0.35px">Fructose-1,6-BP</text>
<text x="746.0" y="320.9" font-size="11.3" text-anchor="middle" fill="#1a1a1a" style="stroke:#1a1a1a;stroke-width:0.35px">PEP</text>
<text x="746.0" y="353.8" font-size="11.3" text-anchor="middle" fill="#1a1a1a" style="stroke:#1a1a1a;stroke-width:0.35px">Pyruvate</text>
<text x="746.0" y="386.8" font-size="11.3" text-anchor="middle" fill="#1a1a1a" style="stroke:#1a1a1a;stroke-width:0.35px">Lactate</text>
<line x1="746.4" y1="225.5" x2="746.4" y2="243.0" stroke="#1a1a1a" stroke-width="1.3" stroke-dasharray="3,2.2"/>
<polygon points="744.5,243.2 748.3,243.2 746.4,246.0" fill="#1a1a1a"/>
<line x1="746.4" y1="257.9" x2="746.4" y2="274.3" stroke="#1a1a1a" stroke-width="1.3" />
<polygon points="744.5,274.4 748.3,274.4 746.4,277.3" fill="#1a1a1a"/>
<line x1="746.4" y1="291.0" x2="746.4" y2="306.4" stroke="#1a1a1a" stroke-width="1.3" stroke-dasharray="3,2.2"/>
<polygon points="744.5,306.5 748.3,306.5 746.4,309.4" fill="#1a1a1a"/>
<line x1="746.4" y1="323.3" x2="746.4" y2="341.2" stroke="#1a1a1a" stroke-width="1.3" />
<polygon points="744.5,341.3 748.3,341.3 746.4,344.2" fill="#1a1a1a"/>
<line x1="746.4" y1="356.2" x2="746.4" y2="373.5" stroke="#1a1a1a" stroke-width="1.3" />
<polygon points="744.5,373.6 748.3,373.6 746.4,376.5" fill="#1a1a1a"/>
</svg></body></html>
